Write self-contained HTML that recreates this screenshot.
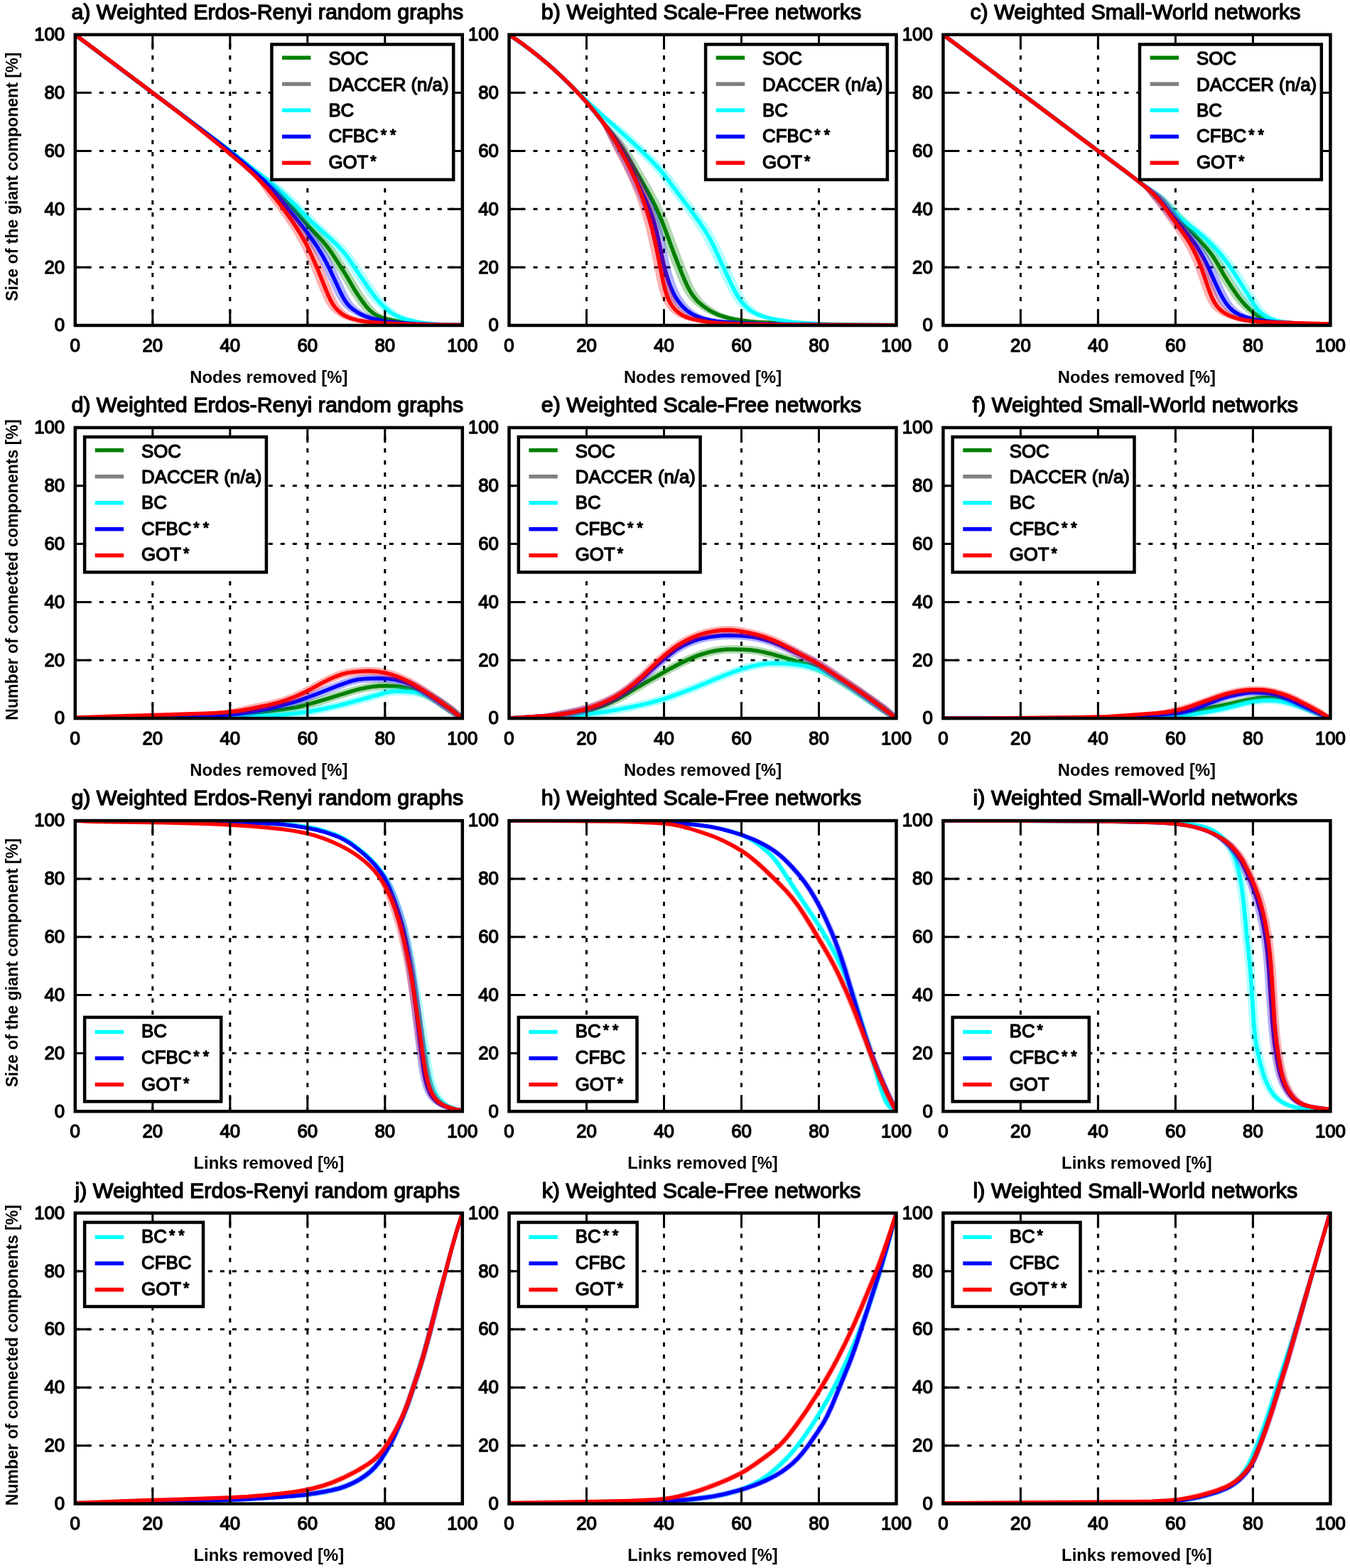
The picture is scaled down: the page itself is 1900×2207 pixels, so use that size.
<!DOCTYPE html><html><head><meta charset="utf-8"><title>Figure</title><style>html,body{margin:0;padding:0;background:#fff;}svg{display:block;}text{font-family:"Liberation Sans", Arial, Helvetica, sans-serif;fill:#000;}.r{stroke:#000;stroke-width:1.35px;stroke-linejoin:round;}.b{}</style></head><body>
<svg width="1900" height="2207" viewBox="0 0 1900 2207">
<rect width="1900" height="2207" fill="#fff"/>
<clipPath id="cp0"><rect x="105.8" y="48.8" width="545" height="409.2"/></clipPath><path d="M214.8 458V48.8M105.8 376.2H650.8M323.8 458V48.8M105.8 294.3H650.8M432.8 458V48.8M105.8 212.5H650.8M541.8 458V48.8M105.8 130.6H650.8" stroke="#000" stroke-width="3" stroke-dasharray="6 11" fill="none"/><g clip-path="url(#cp0)"><path d="M354.9 240.4L359.2 244.2L363.4 248.6L377.2 265L401 290.2L426 318.8L446.4 341L451.5 346.9L458.9 357.4L476.9 385L490 407.4L496.6 417.6L506.7 431.5L510.7 436.1L514.5 439.8L520.5 444.2L527.6 447.9L535.2 450.6L545 453L562.4 456.3L574.4 458L585.8 458.8L606.7 459.3L606.8 454.1L592.3 453.2L577.5 451.6L566.6 450L552.5 447.2L544.9 445.3L539.5 443.3L534.3 440.5L530.1 437.2L526.7 434L522.9 429.6L513 416L506.6 406L492.3 381.9L473.7 353.3L465.2 342L443.5 318.3L416.4 287.4L396.4 266.2L386.5 257.7L365.9 242.4L358.3 236.4Z" fill="#008000" fill-opacity="0.3" stroke="none"/><path d="M105.8 48.8L305.2 198.4L327.6 215.4L342.6 227L355.1 237.1L367.3 247.5L378.4 257.6L390.6 269.5L405 284.8L415.1 295.9L434.8 318.6L454.4 339.9L459.6 346L463.2 350.8L467.2 356.6L485.1 384.3L488.8 390.3L498.3 406.7L505.4 417.7L511.2 425.8L516.1 432.1L520.1 436.5L524.6 440.4L527.8 442.6L532.1 444.9L535.8 446.5L540.5 448L546.2 449.5L553.1 451L564.9 453.2L572.8 454.4L584.8 455.7L599.7 456.5L626.8 457.3L650.8 457.6" stroke="#008000" stroke-width="5.5" fill="none" stroke-linejoin="round"/><path d="M355.1 239.8L363.3 247L378.6 263L393.3 276.3L406.3 288.6L430.9 313.6L455.5 335.6L471.7 351.7L477.5 358.3L482.2 364.6L511.4 407.5L518.5 417.4L527 427.5L535.8 436L542.4 441.1L548.7 445.1L555.7 448.5L563.1 451.2L571.7 453.5L581 455.3L592.8 457L606.6 458.3L607 453.1L599.4 452.3L591.8 450.9L577.4 447.2L570.7 445.1L565.1 442.8L560.5 440.2L555.9 437L550.7 432.8L542.4 424.6L534.8 415.6L527.9 405.9L498 362.1L491.8 354.1L483.5 345.2L469.8 331.8L447.4 311.9L421.5 285.6L409.1 273.8L397.1 263.1L387.7 255.8L367.1 242.1L358.3 235.8Z" fill="#00ffff" fill-opacity="0.3" stroke="none"/><path d="M105.8 48.8L260.2 164.7L322 210.7L370.1 248.3L380.9 257.2L390.8 265.7L402.7 276.4L414.3 287.4L439.5 313.1L464.1 335.1L472.8 343.4L480.4 351.3L485.6 357.4L490.4 363.7L520.2 407.6L527.9 418.1L533 424.2L537.8 429.3L542.9 434.1L548.3 438.5L552.4 441.3L555.8 443.3L559.3 445.1L563.9 447.1L568.6 448.7L574.3 450.3L587 453.1L597.9 454.8L610.8 456L628.8 457L650.8 457.6" stroke="#00ffff" stroke-width="5.5" fill="none" stroke-linejoin="round"/><path d="M355.3 243L360.7 248.2L365.1 253.4L379.8 273.4L418.9 321.5L434.8 343.2L442.9 355.7L450.7 369.6L456.4 381.2L471.7 413.8L475 420.1L480.1 427.8L482.8 430.9L486.5 434.6L490.7 437.9L495.1 440.8L504.6 445.9L516 450.2L528.9 453.4L544 456L562.1 457.7L579.7 458.8L606.7 459.3L606.8 454.1L558.8 450.9L546.9 449.5L536.2 447.6L525.9 445L517.6 441.8L509.6 437.5L502.1 432.1L497 426.7L492.1 419.6L488 411.8L471.4 376.4L464.5 363L454.6 346.6L441.3 327.7L428.3 311L397.3 273L393.2 268.3L388.6 263.7L382.7 258.4L358.8 239.1Z" fill="#0000ff" fill-opacity="0.3" stroke="none"/><path d="M105.8 48.8L255.6 161.2L309 201.7L327.9 216.6L344.2 230L360 243.7L371.8 254.6L378.7 261.8L385.4 269.3L404.3 292.7L418.9 310.4L430.7 325.4L441.9 340.8L446.4 347.4L450.6 354.2L454.7 361.1L458.5 368.1L464.4 379.7L480.1 413.3L483.8 420.3L487 425.3L490.1 429.2L493.6 432.7L497.4 435.8L501.5 438.6L506.6 441.7L512 444.2L517.6 446.4L523.3 448.3L530.1 450L536.9 451.4L544.8 452.7L552.8 453.6L561.8 454.5L584.7 455.9L620.8 457.1L650.8 457.6" stroke="#0000ff" stroke-width="5.5" fill="none" stroke-linejoin="round"/><path d="M355.1 247.4L359.6 252.1L363.5 256.9L377.4 277.4L397 303.6L407.2 318.3L416.2 332.7L422.9 344.8L429.3 358.3L439.4 381.1L451.7 411.8L456.2 421.9L459.1 427.2L462.5 432.3L466.5 437.1L470.3 440.7L477.4 445.6L481.4 447.7L486.6 449.9L497.6 453.2L511 455.6L528.1 457.4L549.9 458.6L577.2 459.5L606.7 459.6L606.8 454.4L543 451.9L528.7 450.9L516.8 449.6L506.6 447.7L498.6 445.3L491.6 442.1L485.8 438.1L482.5 434.9L478.9 430.6L476.2 426.7L473.3 421.6L468.9 411.7L455.4 378.3L442.7 349.9L435.3 335.6L423.7 316.8L408.7 295.4L399.6 283.4L393.8 276.3L383.1 265.4L358.7 243.6Z" fill="#ff0000" fill-opacity="0.3" stroke="none"/><path d="M105.8 48.8L150.7 82.3L197.9 117.8L247.3 155.3L274.1 176.2L305.3 201.3L338.3 228.8L353.3 242.1L360.5 249L366.8 255.4L373.6 262.8L380.8 271.1L388.4 280.4L395.7 289.9L403.5 300.3L411 310.9L416.5 319.2L422.4 328.6L430.4 342.4L436.5 355L447.4 379.7L460.5 412.2L465 422.2L468.4 428.2L471.9 433L475.9 437.4L479.6 440.6L482.8 442.9L487.1 445.3L491.7 447.3L497.3 449.2L503.1 450.7L509 451.8L514.9 452.7L522.8 453.6L540.8 455L566.8 456L607.8 457L650.8 457.6" stroke="#ff0000" stroke-width="5.5" fill="none" stroke-linejoin="round"/></g><path d="M214.8 458v-21M214.8 48.8v21M105.8 376.2h21M650.8 376.2h-21M323.8 458v-21M323.8 48.8v21M105.8 294.3h21M650.8 294.3h-21M432.8 458v-21M432.8 48.8v21M105.8 212.5h21M650.8 212.5h-21M541.8 458v-21M541.8 48.8v21M105.8 130.6h21M650.8 130.6h-21" stroke="#000" stroke-width="3" fill="none"/><rect x="382.4" y="62.5" width="255.8" height="190.4" fill="#fff" stroke="#000" stroke-width="4.5"/><path d="M397 81.2h40.4" stroke="#008000" stroke-width="5.5"/><text class="r" x="462.4" y="91.3" font-size="25.8">SOC</text><path d="M397 118.2h40.4" stroke="#808080" stroke-width="5.5"/><text class="r" x="462.4" y="127.6" font-size="25.8">DACCER (n/a)</text><path d="M397 155.2h40.4" stroke="#00ffff" stroke-width="5.5"/><text class="r" x="462.4" y="163.9" font-size="25.8">BC</text><path d="M397 192.2h40.4" stroke="#0000ff" stroke-width="5.5"/><text class="r" x="462.4" y="200.2" font-size="25.8">CFBC<tspan dx="3.0" dy="-3" font-size="21.5">*</tspan><tspan dx="5.0" dy="0" font-size="21.5">*</tspan></text><path d="M397 229.2h40.4" stroke="#ff0000" stroke-width="5.5"/><text class="r" x="462.4" y="236.5" font-size="25.8">GOT<tspan dx="3.0" dy="-3" font-size="21.5">*</tspan></text><rect x="105.8" y="48.8" width="545" height="409.2" fill="none" stroke="#000" stroke-width="4.5"/><text class="r" x="105.8" y="494.6" font-size="25.8" text-anchor="middle">0</text><text class="r" x="91.2" y="466.3" font-size="25.8" text-anchor="end">0</text><text class="r" x="214.8" y="494.6" font-size="25.8" text-anchor="middle">20</text><text class="r" x="91.2" y="384.5" font-size="25.8" text-anchor="end">20</text><text class="r" x="323.8" y="494.6" font-size="25.8" text-anchor="middle">40</text><text class="r" x="91.2" y="302.6" font-size="25.8" text-anchor="end">40</text><text class="r" x="432.8" y="494.6" font-size="25.8" text-anchor="middle">60</text><text class="r" x="91.2" y="220.8" font-size="25.8" text-anchor="end">60</text><text class="r" x="541.8" y="494.6" font-size="25.8" text-anchor="middle">80</text><text class="r" x="91.2" y="138.9" font-size="25.8" text-anchor="end">80</text><text class="r" x="650.8" y="494.6" font-size="25.8" text-anchor="middle">100</text><text class="r" x="91.2" y="57.1" font-size="25.8" text-anchor="end">100</text><text class="r" x="376.3" y="26.9" font-size="30.4" text-anchor="middle">a) Weighted Erdos-Renyi random graphs</text><text x="378.3" y="538.5" font-size="23.8" font-weight="bold" class="b" text-anchor="middle">Nodes removed [%]</text><text x="25.3" y="248.9" font-size="23.1" font-weight="bold" class="b" text-anchor="middle" transform="rotate(-90 25.3 248.9)">Size of the giant component [%]</text>
<clipPath id="cp1"><rect x="716.5" y="48.8" width="545" height="409.2"/></clipPath><path d="M825.5 458V48.8M716.5 376.2H1261.5M934.5 458V48.8M716.5 294.3H1261.5M1043.5 458V48.8M716.5 212.5H1261.5M1152.5 458V48.8M716.5 130.6H1261.5" stroke="#000" stroke-width="3" stroke-dasharray="6 11" fill="none"/><g clip-path="url(#cp1)"><path d="M840 165.5L847 175.5L860.6 198.9L877.5 225.5L898.6 261.8L910.4 283.7L917 297.1L922.5 309.9L941.3 360.5L955.6 395.9L959.4 404.1L963.3 411.2L967.2 417.2L971.7 422.8L976 427.2L980.8 431.2L985.8 434.9L992 438.9L997.5 442L1003.4 444.7L1009.7 447.1L1016 449L1023.5 450.9L1033.1 452.8L1052.3 455.5L1069.4 456.7L1097.4 457.2L1097.5 452L1065 450L1054 449.1L1038.5 446.7L1025.3 443.7L1019.4 441.8L1014.5 439.7L1004.7 434.5L999.2 430.8L994.6 427.3L990.4 423.5L987.2 420L983.6 415.5L979.9 409.8L976.1 402.9L972.8 395.7L958.9 361.5L944 321.1L937.8 305.3L929.4 287L918.2 265.7L893.5 223.2L881.7 204.6L873.7 194.7L853.8 173.6L844.1 162.3Z" fill="#008000" fill-opacity="0.3" stroke="none"/><path d="M716.5 48.8L728.1 56.7L737.8 63.7L748.2 71.5L759.2 80.2L769.9 89.2L780.5 98.4L790 107.2L800.1 116.9L808.6 125.5L816.9 134.2L824.3 142.3L830.8 149.9L844.5 167L862.3 190L870 200.5L875.7 208.7L881.6 218L900.9 250.7L912.7 271.6L918.3 282.2L922.8 291.2L927.8 302.1L932.4 313.2L937.3 326.3L948 355.4L958.2 381.5L964 395.3L968.7 405.2L971.1 409.6L973.7 413.9L978.4 420.2L981.1 423.2L983.9 426L990 431.1L996.6 435.6L1003.5 439.6L1009.8 442.6L1016.3 445L1024 447.2L1033.7 449.4L1044.6 451.2L1055.5 452.5L1066.5 453.4L1080.5 454L1151.5 456.2L1207.5 457.2L1261.5 457.6" stroke="#008000" stroke-width="5.5" fill="none" stroke-linejoin="round"/><path d="M840.3 158.9L847.5 166.1L858.5 179L863.4 184.3L895.5 214L908.3 226.6L918.5 237.4L931.1 252.7L966.4 299.9L980.7 320.3L990.5 336.3L997.7 350.5L1016.1 390.5L1024.8 408.5L1031.4 419.9L1038.2 428.9L1043.3 434L1048.2 438L1053.7 441.5L1060.7 444.9L1067.5 447.3L1075 449.2L1084.6 451.1L1097.4 453.2L1098.2 448.1L1089.9 446.5L1083.6 444.8L1077.5 442.5L1070.1 439.2L1065.5 436.6L1061.8 434L1057.6 430.3L1053.7 426.1L1047.3 417.6L1041.5 407.3L1032.8 389.4L1013.2 346.7L1008.1 336.8L1002.6 327.2L995 315.4L984.6 300.6L946.2 249.3L937.2 238.4L927.7 228L914.3 214.4L899.7 200.6L878.7 181.8L853.8 163.3L843.8 155Z" fill="#00ffff" fill-opacity="0.3" stroke="none"/><path d="M716.5 48.8L732.9 60.2L748.1 71.6L764.5 84.7L778.9 97.1L790.6 108L815.7 132.4L828.8 144.8L848 162.3L886.6 197.1L898.4 208L915.6 224.7L922.5 232L928.5 238.6L933.7 244.7L939.2 251.8L956.5 275.1L972.2 295.8L982.8 310.4L991.1 322.8L997.9 333.9L1003.5 344.5L1008.2 354.5L1026.6 394.5L1032.3 406.1L1036 413.2L1040.2 420L1045 426.3L1049.7 431.4L1054.9 435.9L1059.9 439.2L1065.1 442L1071.6 444.6L1078.3 446.6L1086 448.5L1095.8 450.3L1106.7 452L1118.6 453.4L1130.6 454.5L1145.5 455.6L1159.5 456.4L1172.5 457L1210.5 457.5L1261.5 457.8" stroke="#00ffff" stroke-width="5.5" fill="none" stroke-linejoin="round"/><path d="M840.1 165.6L845 172.6L849.2 179.6L862 205L874.3 227.6L897 275.4L903.1 289.1L909.6 305.8L914.3 321L918.5 338.4L925.9 373.7L928.7 384.4L931.9 395L936.2 406.3L940.5 415.5L945.3 423.3L950.9 430.5L955.2 435L959.2 438.5L963.5 441.6L969.1 444.9L975.1 447.7L981.5 450L988 451.9L995.7 453.6L1013.1 456.1L1037.1 457.9L1066.7 459L1098.3 459.1L1098.4 453.9L1032.8 451.1L1016.8 449.8L1003.4 447.8L997.5 446.5L991.7 444.9L986.9 443L982.1 440.7L978.3 438.4L974.6 435.7L971 432.7L967.1 428.5L961.8 421.7L957.2 414.2L953 405.3L949.1 395.1L945.8 384.7L943 374.1L934.8 335L930.1 316.5L927.1 306.9L923.6 297.4L914.6 276.1L892.8 229.9L886.8 218.4L880.8 207.9L875.6 200.1L869.7 192.4L844.2 162.4Z" fill="#0000ff" fill-opacity="0.3" stroke="none"/><path d="M716.5 48.8L727.3 56.1L737.1 63L747.4 70.9L757.6 79L768.4 87.9L778.2 96.5L787.8 105.2L797.9 115L807.8 124.9L817.4 135.1L826.1 144.7L833.9 153.9L842.1 164L850 174.3L857 184.1L863.7 194.1L869 202.5L874.6 212L879.9 221.6L884.5 230.5L907.1 278.5L911.5 288.6L915.6 298.8L920.2 312L924 325.5L927.8 342.1L933.2 368.6L936.3 381.2L940.4 394.6L942.7 401.2L945 406.7L947.5 412.2L949.8 416.6L952.4 420.8L955.3 424.9L958.4 428.8L961.7 432.4L965.3 435.8L968.4 438.3L973.4 441.6L978.7 444.3L985.1 446.9L991.8 449L999.6 450.7L1008.5 452.2L1018.4 453.3L1029.4 454.1L1044.4 455L1060.4 455.6L1105.4 456.6L1186.4 457.5L1261.5 457.8" stroke="#0000ff" stroke-width="5.5" fill="none" stroke-linejoin="round"/><path d="M840.1 165.5L845 172.4L849 179.5L861.8 206.2L877 235.1L886.7 255.9L894.9 276.3L902.9 299.8L909.6 323.9L915.3 349.2L924.3 394.3L928.1 409.9L930.6 417.6L933.5 424.1L937.1 430.3L940.8 435.2L945.2 439.7L949.4 443L954.1 445.9L959.3 448.3L965.8 450.6L972.4 452.3L991.4 455.9L1007.6 457.9L1026.7 458.9L1067.1 459.8L1097.4 459.5L1097.5 454.3L1022.4 452.3L1009.5 451.5L998.7 450.2L982.3 447.1L976.4 445.6L971.8 444L967.3 441.8L963.7 439.4L960.2 436.6L957 433.2L953.6 428.7L950.2 422.9L947.5 416.7L945.3 410.2L941.4 394.8L931.7 345.7L925 317.4L921 302.9L916.4 288.6L911.4 274.4L905.8 260.4L899.8 246.6L893.3 233.1L885.4 217.9L879.4 207.4L874.2 199.6L867.1 190L844.2 162.3Z" fill="#ff0000" fill-opacity="0.3" stroke="none"/><path d="M716.5 48.8L728.1 56.6L737.9 63.6L748.2 71.5L758.4 79.6L769.1 88.6L779.7 97.8L789.2 106.6L799.3 116.3L809.8 127L820.1 138L829.4 148.4L837.1 157.6L844.6 167L851.1 175.9L856.7 184.1L863.1 194.3L869.3 204.6L875.2 215L880.4 224.7L885.4 234.5L890.1 244.5L894.7 254.5L898.9 264.6L902.9 274.9L907.3 287.1L911.1 298.5L914.5 310L917.8 322.6L920.6 334.3L923.6 347.9L933.2 396L935.5 405.7L937.7 413.4L939.4 418.1L941 421.7L943.2 426.1L945.3 429.5L947.6 432.7L950.2 435.7L953 438.4L956.1 440.9L960.2 443.6L964.6 445.8L970.2 447.8L976.9 449.6L986.7 451.6L997.6 453.4L1006.5 454.5L1016.5 455.2L1044.4 456.2L1095.5 456.9L1189.5 457.6L1261.5 457.8" stroke="#ff0000" stroke-width="5.5" fill="none" stroke-linejoin="round"/></g><path d="M825.5 458v-21M825.5 48.8v21M716.5 376.2h21M1261.5 376.2h-21M934.5 458v-21M934.5 48.8v21M716.5 294.3h21M1261.5 294.3h-21M1043.5 458v-21M1043.5 48.8v21M716.5 212.5h21M1261.5 212.5h-21M1152.5 458v-21M1152.5 48.8v21M716.5 130.6h21M1261.5 130.6h-21" stroke="#000" stroke-width="3" fill="none"/><rect x="993.1" y="62.5" width="255.8" height="190.4" fill="#fff" stroke="#000" stroke-width="4.5"/><path d="M1007.7 81.2h40.4" stroke="#008000" stroke-width="5.5"/><text class="r" x="1073.1" y="91.3" font-size="25.8">SOC</text><path d="M1007.7 118.2h40.4" stroke="#808080" stroke-width="5.5"/><text class="r" x="1073.1" y="127.6" font-size="25.8">DACCER (n/a)</text><path d="M1007.7 155.2h40.4" stroke="#00ffff" stroke-width="5.5"/><text class="r" x="1073.1" y="163.9" font-size="25.8">BC</text><path d="M1007.7 192.2h40.4" stroke="#0000ff" stroke-width="5.5"/><text class="r" x="1073.1" y="200.2" font-size="25.8">CFBC<tspan dx="3.0" dy="-3" font-size="21.5">*</tspan><tspan dx="5.0" dy="0" font-size="21.5">*</tspan></text><path d="M1007.7 229.2h40.4" stroke="#ff0000" stroke-width="5.5"/><text class="r" x="1073.1" y="236.5" font-size="25.8">GOT<tspan dx="3.0" dy="-3" font-size="21.5">*</tspan></text><rect x="716.5" y="48.8" width="545" height="409.2" fill="none" stroke="#000" stroke-width="4.5"/><text class="r" x="716.5" y="494.6" font-size="25.8" text-anchor="middle">0</text><text class="r" x="701.9" y="466.3" font-size="25.8" text-anchor="end">0</text><text class="r" x="825.5" y="494.6" font-size="25.8" text-anchor="middle">20</text><text class="r" x="701.9" y="384.5" font-size="25.8" text-anchor="end">20</text><text class="r" x="934.5" y="494.6" font-size="25.8" text-anchor="middle">40</text><text class="r" x="701.9" y="302.6" font-size="25.8" text-anchor="end">40</text><text class="r" x="1043.5" y="494.6" font-size="25.8" text-anchor="middle">60</text><text class="r" x="701.9" y="220.8" font-size="25.8" text-anchor="end">60</text><text class="r" x="1152.5" y="494.6" font-size="25.8" text-anchor="middle">80</text><text class="r" x="701.9" y="138.9" font-size="25.8" text-anchor="end">80</text><text class="r" x="1261.5" y="494.6" font-size="25.8" text-anchor="middle">100</text><text class="r" x="701.9" y="57.1" font-size="25.8" text-anchor="end">100</text><text class="r" x="987" y="26.9" font-size="30.4" text-anchor="middle">b) Weighted Scale-Free networks</text><text x="989" y="538.5" font-size="23.8" font-weight="bold" class="b" text-anchor="middle">Nodes removed [%]</text>
<clipPath id="cp2"><rect x="1327.4" y="48.8" width="545" height="409.2"/></clipPath><path d="M1436.4 458V48.8M1327.4 376.2H1872.4M1545.4 458V48.8M1327.4 294.3H1872.4M1654.4 458V48.8M1327.4 212.5H1872.4M1763.4 458V48.8M1327.4 130.6H1872.4" stroke="#000" stroke-width="3" stroke-dasharray="6 11" fill="none"/><g clip-path="url(#cp2)"><path d="M1603.7 259.5L1608 263.1L1611.6 266.5L1621.8 278.2L1632.1 288.6L1651.3 309L1672.9 331.2L1690.3 350.5L1695.8 357.4L1700.8 364.7L1718.1 394L1732 415L1736.8 421.4L1742 427.7L1747.7 433.6L1752.9 438.5L1760.3 444.2L1766.8 448.2L1774.1 451.4L1781.9 453.8L1793.2 456L1806.3 457.6L1816.4 458.3L1834.3 458.7L1834.4 453.5L1822.8 452.8L1805 450.8L1797.1 449.7L1790.6 448.3L1785.2 446.5L1779.8 444.1L1774.5 440.7L1768.5 435.9L1762.9 430.6L1758.1 425.6L1749 414.1L1735.2 393.4L1720 367.5L1715.7 360.6L1709 351.7L1699.2 340.2L1688.3 328.3L1667.3 306.8L1649.5 287.8L1639.5 277.8L1630.5 270.9L1613.1 259.7L1606.8 255.4Z" fill="#008000" fill-opacity="0.3" stroke="none"/><path d="M1327.4 48.8L1586.1 242.9L1614.8 264.7L1621.1 269.7L1627.2 274.9L1633 280.4L1638.7 286L1659.3 307.9L1679.6 328.7L1689.8 339.7L1698.4 349.5L1704 356.5L1709.1 363.9L1712.8 369.9L1722.2 386.4L1727.4 394.9L1735 406.7L1741.9 416.5L1747.5 423.6L1753.5 430.3L1760 436.5L1766.2 441.6L1769.4 443.8L1772.8 445.9L1776.3 447.6L1780 449.1L1783.8 450.4L1788.6 451.6L1798.4 453.4L1811.4 454.8L1826.3 455.8L1848.4 456.5L1872.4 456.8" stroke="#008000" stroke-width="5.5" fill="none" stroke-linejoin="round"/><path d="M1603.6 259.4L1610.5 265.2L1621.9 277.8L1648.2 303.6L1658.1 312.3L1676.4 326.4L1684.7 333.3L1694.8 342.7L1704.3 352.8L1713.3 363.3L1721.6 374.4L1730.5 387.7L1758.2 431.7L1762.6 437.4L1767 441.9L1772.1 445.7L1778.8 449.5L1785.1 452.2L1792 454.3L1799.2 455.7L1807.1 456.8L1834.2 458.4L1834.5 453.2L1825.9 452.4L1809.2 450.3L1800.6 448.7L1795.4 447L1790.7 444.8L1786.1 442.1L1782.6 439.3L1778.7 435.4L1774.7 430.1L1746.5 385.3L1736.9 371.2L1727.1 358.3L1715 344.8L1706.4 336.2L1698 328.7L1675.1 310.8L1666.8 303.8L1638 276L1630.6 270.6L1613.9 260.2L1606.7 255.3Z" fill="#00ffff" fill-opacity="0.3" stroke="none"/><path d="M1327.4 48.8L1611.6 262.1L1621.1 269.5L1628 275.3L1635.4 282L1651.7 298.3L1659.7 305.8L1668.2 312.8L1686.4 326.8L1695.5 334.7L1704.2 343L1713.1 352.5L1718.3 358.5L1723.3 364.8L1728.1 371.2L1732.7 377.7L1739.3 387.8L1764.8 428.4L1767.6 432.6L1770 435.7L1772 437.9L1774.1 439.9L1777.1 442.4L1782.9 446.2L1789.1 449.2L1795.7 451.4L1803.5 452.9L1817.4 454.5L1836.4 455.9L1851.4 456.5L1872.4 456.8" stroke="#00ffff" stroke-width="5.5" fill="none" stroke-linejoin="round"/><path d="M1603.5 259.4L1609.1 264.1L1613.4 268.8L1630.2 289.7L1645.5 309.5L1665.4 333.3L1673.7 344.4L1681.2 356.1L1688.4 369.1L1692.8 378L1705.5 406.3L1711.9 418.9L1715.6 425L1719.1 430L1722.4 433.9L1726.2 437.6L1733.2 442.6L1741.2 446.5L1751.9 450.1L1763.9 452.8L1778.8 455.1L1793.7 456.6L1810.3 457.6L1834.3 458.1L1834.5 452.9L1791.5 449.8L1780.5 448.6L1770.5 446.9L1761.1 444.7L1753.8 442.2L1747.6 439.1L1741.8 435L1738.4 431.8L1735.4 428.2L1732.1 423.5L1729 418.4L1722.7 406.1L1709.1 376L1703.7 365.2L1695.1 350.4L1685.4 336.3L1678.5 327.6L1662.4 308.4L1645.3 286.3L1638.6 278.6L1634.6 274.9L1629 270.5L1606.7 255.3Z" fill="#0000ff" fill-opacity="0.3" stroke="none"/><path d="M1327.4 48.8L1541.1 209.2L1584.4 241.5L1613 263.5L1619.2 268.5L1624.4 273.2L1630 278.9L1635.9 285.7L1653.7 308.6L1674.2 333.2L1679 339.5L1683 345.3L1690 356.2L1696.8 368.5L1701.1 377.5L1713.9 405.8L1717.4 413L1720.7 419.1L1724.9 425.9L1728.5 430.7L1732.5 435L1736.3 438.1L1739.6 440.3L1743.9 442.7L1748.4 444.7L1753.1 446.4L1758.9 448L1764.7 449.4L1771.6 450.7L1779.5 451.8L1795.4 453.4L1821.4 455L1847.4 456L1872.4 456.4" stroke="#0000ff" stroke-width="5.5" fill="none" stroke-linejoin="round"/><path d="M1604.2 260.1L1608.3 263.8L1612.1 268L1630.1 291.3L1656.3 327.9L1665.5 342L1672.7 355L1678.9 368.6L1683.1 379.7L1693.2 409.1L1697.8 420.3L1700.6 425.7L1703.9 430.9L1707.2 434.9L1711 438.5L1714.4 441.1L1719.1 444L1728.1 448.1L1739 451.6L1750.2 453.8L1764.4 455.5L1781.3 456.6L1808.7 457.5L1834.3 457.7L1834.4 452.5L1811 451.2L1777.7 449.9L1766.5 449.1L1756.7 447.9L1747.6 446L1739.5 443.3L1731.6 439.5L1725.8 435.3L1723.2 432.8L1720.3 429.2L1717.7 425.2L1715 420L1710.4 409.1L1699.3 377L1694.5 364.8L1686.6 348.5L1682.1 340.6L1676.7 332.1L1649.4 293.7L1639.5 280.9L1634.9 276.3L1629.5 271.9L1607.4 256.1Z" fill="#ff0000" fill-opacity="0.3" stroke="none"/><path d="M1327.4 48.8L1541.1 209.3L1584.5 241.5L1596.4 250.6L1610.5 261.9L1618.1 268.4L1623.9 273.8L1628.1 278.1L1632 282.6L1640 292.9L1665.1 327.9L1670.1 335.4L1674.8 343L1678.3 349.1L1681.9 356.2L1684.9 362.6L1687.7 369L1691.6 379.3L1701.7 408.6L1704.2 415.1L1706.6 420.6L1709.4 425.9L1712.7 430.8L1716.6 435.2L1720.3 438.4L1723.5 440.6L1727.8 443.1L1732.4 445.2L1738 447.2L1742.7 448.6L1748.6 450L1754.5 451L1760.4 451.8L1773.4 452.9L1789.4 453.7L1834.4 455.1L1872.4 456" stroke="#ff0000" stroke-width="5.5" fill="none" stroke-linejoin="round"/></g><path d="M1436.4 458v-21M1436.4 48.8v21M1327.4 376.2h21M1872.4 376.2h-21M1545.4 458v-21M1545.4 48.8v21M1327.4 294.3h21M1872.4 294.3h-21M1654.4 458v-21M1654.4 48.8v21M1327.4 212.5h21M1872.4 212.5h-21M1763.4 458v-21M1763.4 48.8v21M1327.4 130.6h21M1872.4 130.6h-21" stroke="#000" stroke-width="3" fill="none"/><rect x="1604" y="62.5" width="255.8" height="190.4" fill="#fff" stroke="#000" stroke-width="4.5"/><path d="M1618.6 81.2h40.4" stroke="#008000" stroke-width="5.5"/><text class="r" x="1684" y="91.3" font-size="25.8">SOC</text><path d="M1618.6 118.2h40.4" stroke="#808080" stroke-width="5.5"/><text class="r" x="1684" y="127.6" font-size="25.8">DACCER (n/a)</text><path d="M1618.6 155.2h40.4" stroke="#00ffff" stroke-width="5.5"/><text class="r" x="1684" y="163.9" font-size="25.8">BC</text><path d="M1618.6 192.2h40.4" stroke="#0000ff" stroke-width="5.5"/><text class="r" x="1684" y="200.2" font-size="25.8">CFBC<tspan dx="3.0" dy="-3" font-size="21.5">*</tspan><tspan dx="5.0" dy="0" font-size="21.5">*</tspan></text><path d="M1618.6 229.2h40.4" stroke="#ff0000" stroke-width="5.5"/><text class="r" x="1684" y="236.5" font-size="25.8">GOT<tspan dx="3.0" dy="-3" font-size="21.5">*</tspan></text><rect x="1327.4" y="48.8" width="545" height="409.2" fill="none" stroke="#000" stroke-width="4.5"/><text class="r" x="1327.4" y="494.6" font-size="25.8" text-anchor="middle">0</text><text class="r" x="1312.8" y="466.3" font-size="25.8" text-anchor="end">0</text><text class="r" x="1436.4" y="494.6" font-size="25.8" text-anchor="middle">20</text><text class="r" x="1312.8" y="384.5" font-size="25.8" text-anchor="end">20</text><text class="r" x="1545.4" y="494.6" font-size="25.8" text-anchor="middle">40</text><text class="r" x="1312.8" y="302.6" font-size="25.8" text-anchor="end">40</text><text class="r" x="1654.4" y="494.6" font-size="25.8" text-anchor="middle">60</text><text class="r" x="1312.8" y="220.8" font-size="25.8" text-anchor="end">60</text><text class="r" x="1763.4" y="494.6" font-size="25.8" text-anchor="middle">80</text><text class="r" x="1312.8" y="138.9" font-size="25.8" text-anchor="end">80</text><text class="r" x="1872.4" y="494.6" font-size="25.8" text-anchor="middle">100</text><text class="r" x="1312.8" y="57.1" font-size="25.8" text-anchor="end">100</text><text class="r" x="1597.9" y="26.9" font-size="30.4" text-anchor="middle">c) Weighted Small-World networks</text><text x="1599.9" y="538.5" font-size="23.8" font-weight="bold" class="b" text-anchor="middle">Nodes removed [%]</text>
<clipPath id="cp3"><rect x="105.8" y="601.9" width="545" height="409.2"/></clipPath><path d="M214.8 1011.1V601.9M105.8 929.3H650.8M323.8 1011.1V601.9M105.8 847.4H650.8M432.8 1011.1V601.9M105.8 765.6H650.8M541.8 1011.1V601.9M105.8 683.7H650.8" stroke="#000" stroke-width="3" stroke-dasharray="6 11" fill="none"/><g clip-path="url(#cp3)"><path d="M308.2 1010.6L335.6 1011.3L346.8 1010.9L393.5 1005.2L409.6 1002.8L422.7 1000.2L437.5 996.4L460.7 989.7L496.1 978.6L506.4 975.8L516.9 973.6L526.5 972L535 971.2L542.5 971L556 971.8L569.4 973.7L579.4 976.1L590.2 980L599.9 984.3L609.2 989.3L631.3 1003.9L648.3 1014.5L653.3 1007.7L639.5 995.9L625.5 986L611.5 977.3L598.4 970.8L585.8 965.9L573.6 962.7L558.2 960.4L542.7 959.4L534.3 959.6L525.9 960.4L514.7 962.2L503.7 964.6L492.7 967.5L440.1 983.6L424.9 987.8L413.4 990.4L396 993.1L348.3 999.1L320 1004.3L308 1005.4Z" fill="#008000" fill-opacity="0.3" stroke="none"/><path d="M105.8 1010.7L175.9 1010.3L265.1 1009.1L315.1 1007.7L327.1 1007.1L338.1 1006.2L395.8 999L406.7 997.4L415.5 995.9L427.2 993.2L442.7 988.9L462.9 982.9L493.4 973.4L504.1 970.4L514.8 968.1L524.7 966.4L533.6 965.4L541.6 965.2L548.6 965.4L556.6 966L564.5 967L571.4 968.2L577.3 969.5L582.1 970.8L587.7 972.8L594.2 975.4L600.6 978.2L606 980.9L611.3 983.8L616.4 986.9L633.8 998.7L650.8 1011.1" stroke="#008000" stroke-width="5.5" fill="none" stroke-linejoin="round"/><path d="M308.1 1012.3L318.1 1012.5L341.2 1014.1L350.2 1014.2L393.4 1012.1L409.6 1010.7L426.6 1008.7L448.7 1005.1L477.3 998.8L496.9 993.8L544.8 980.5L553 979.1L562.3 978.7L574.9 979.3L585.2 980.4L592.4 982L600.1 984.8L606.1 987.5L612.6 991.2L632 1004.7L648.4 1014.5L653.2 1007.7L638.5 995.5L625.6 986L616 979.8L606.6 974.9L596.6 971.2L587.2 969L575.7 967.7L561.3 967.1L551.8 967.6L542.3 969.1L480.4 986.1L454.2 992.1L434.9 995.8L419.2 997.9L400.5 999.9L381.7 1001.2L345.8 1002.9L318.9 1006.3L307.9 1007.1Z" fill="#00ffff" fill-opacity="0.3" stroke="none"/><path d="M105.8 1010.9L211.9 1010.6L293 1010L322 1009.3L353 1008.3L381 1007.1L398 1005.9L413 1004.5L427.9 1002.7L438.7 1001L450.5 998.8L469.1 994.8L486.6 990.5L542.6 975L547.4 974L551.4 973.4L556.3 973L561.3 972.9L574.3 973.4L585.2 974.5L590.1 975.4L594 976.4L597.7 977.6L602.4 979.4L609.6 982.8L617.3 987.4L650.8 1011.1" stroke="#00ffff" stroke-width="5.5" fill="none" stroke-linejoin="round"/><path d="M308 1009.3L332.4 1009.5L344.6 1008.9L355.6 1007.2L381.4 1002.2L405 996.5L424.5 990.8L444.5 983.6L480.8 969.4L491 965.8L498.3 963.5L504.6 962.2L512 961.3L523.6 960.7L536.4 960.6L547.8 961.3L558.1 963L569 965.9L577.6 969.3L586.7 974.3L603.6 984.8L631.5 1003.7L648.2 1014.4L653.4 1007.8L639.7 995.8L627.5 986.8L603 970.7L591.8 963.8L584.5 959.8L578.7 957.1L573.6 955.2L561.5 951.9L549.1 949.8L535.6 949L523.3 949.1L512.1 949.6L504.7 950.4L497.4 951.8L489.3 954.1L478.7 957.8L428.3 977.2L417.1 981L405.8 984.3L380.9 990.4L346.7 997.1L326.5 1001.6L316.8 1003.3L307.8 1004.1Z" fill="#0000ff" fill-opacity="0.3" stroke="none"/><path d="M105.8 1010.3L174.8 1009.3L282.9 1007.4L316.9 1006.3L325.9 1005.6L334.8 1004.7L351.6 1002L377.2 997.2L394.8 993.2L411.2 988.8L421.7 985.6L432.1 982L446.2 976.7L477.9 964.3L490.1 960L497.8 957.7L504.6 956.3L511.5 955.5L521.5 955L533.5 954.8L539.5 954.9L545.5 955.2L551.4 955.9L557.3 956.9L564.1 958.5L569.9 960.1L575.5 962.1L580.1 964.1L585.4 966.8L591.4 970.4L615.1 985.4L633.2 997.9L650.8 1011.1" stroke="#0000ff" stroke-width="5.5" fill="none" stroke-linejoin="round"/><path d="M308 1005.8L333.4 1005.5L345.6 1004.6L367.4 1000.5L388.2 995.8L404.9 990.8L421.1 984.4L435.9 977.3L461.3 963.6L472 958.7L480.9 955.2L488.8 953L497.1 951.6L510.6 950.6L522.2 950.5L534.4 951.6L546.4 954.2L558.1 958.1L571.3 964.1L583.1 970.7L599 980.7L613 990.1L631.6 1003.4L648.2 1014.4L653.4 1007.8L638.3 994.3L623.7 983.5L596.9 965.6L586.5 959.2L578.4 954.6L563.4 947.7L556.5 945.1L549.5 943L542.4 941.3L535.1 940L528.8 939.2L521.5 938.9L510.1 939L497.8 939.9L489.5 941L481.1 943L472.2 946.1L461.8 950.5L451.6 955.5L433.2 965.7L424.5 970.1L411.1 976L399.3 980.4L390 983.3L379.5 986L345.6 993.1L326.4 997.8L316.6 999.7L307.7 1000.6Z" fill="#ff0000" fill-opacity="0.3" stroke="none"/><path d="M105.8 1009.9L165.8 1008.1L286.9 1004.3L304.9 1003.4L317.8 1002.6L327.8 1001.6L337.7 1000.3L355.4 997L378.9 992.1L392.5 988.6L404.9 984.6L416 980.2L428.8 974.4L436.8 970.3L453.4 961.1L463.3 956.2L473.4 951.8L481.8 948.8L488.6 947.1L496.4 945.9L507.4 945L519.4 944.6L526.4 944.9L533.3 945.6L540.2 946.7L547 948.3L552.7 950L559.3 952.3L566.7 955.4L573.9 958.9L581 962.7L588.7 967.3L599.7 974.2L611.4 982L621.2 988.8L631.8 996.5L650.8 1011.1" stroke="#ff0000" stroke-width="5.5" fill="none" stroke-linejoin="round"/></g><path d="M214.8 1011.1v-21M214.8 601.9v21M105.8 929.3h21M650.8 929.3h-21M323.8 1011.1v-21M323.8 601.9v21M105.8 847.4h21M650.8 847.4h-21M432.8 1011.1v-21M432.8 601.9v21M105.8 765.6h21M650.8 765.6h-21M541.8 1011.1v-21M541.8 601.9v21M105.8 683.7h21M650.8 683.7h-21" stroke="#000" stroke-width="3" fill="none"/><rect x="119.1" y="615" width="255.8" height="190.4" fill="#fff" stroke="#000" stroke-width="4.5"/><path d="M133.7 633.7h40.4" stroke="#008000" stroke-width="5.5"/><text class="r" x="199.1" y="643.8" font-size="25.8">SOC</text><path d="M133.7 670.7h40.4" stroke="#808080" stroke-width="5.5"/><text class="r" x="199.1" y="680.1" font-size="25.8">DACCER (n/a)</text><path d="M133.7 707.7h40.4" stroke="#00ffff" stroke-width="5.5"/><text class="r" x="199.1" y="716.4" font-size="25.8">BC</text><path d="M133.7 744.7h40.4" stroke="#0000ff" stroke-width="5.5"/><text class="r" x="199.1" y="752.7" font-size="25.8">CFBC<tspan dx="3.0" dy="-3" font-size="21.5">*</tspan><tspan dx="5.0" dy="0" font-size="21.5">*</tspan></text><path d="M133.7 781.7h40.4" stroke="#ff0000" stroke-width="5.5"/><text class="r" x="199.1" y="789" font-size="25.8">GOT<tspan dx="3.0" dy="-3" font-size="21.5">*</tspan></text><rect x="105.8" y="601.9" width="545" height="409.2" fill="none" stroke="#000" stroke-width="4.5"/><text class="r" x="105.8" y="1047.7" font-size="25.8" text-anchor="middle">0</text><text class="r" x="91.2" y="1019.4" font-size="25.8" text-anchor="end">0</text><text class="r" x="214.8" y="1047.7" font-size="25.8" text-anchor="middle">20</text><text class="r" x="91.2" y="937.6" font-size="25.8" text-anchor="end">20</text><text class="r" x="323.8" y="1047.7" font-size="25.8" text-anchor="middle">40</text><text class="r" x="91.2" y="855.7" font-size="25.8" text-anchor="end">40</text><text class="r" x="432.8" y="1047.7" font-size="25.8" text-anchor="middle">60</text><text class="r" x="91.2" y="773.9" font-size="25.8" text-anchor="end">60</text><text class="r" x="541.8" y="1047.7" font-size="25.8" text-anchor="middle">80</text><text class="r" x="91.2" y="692" font-size="25.8" text-anchor="end">80</text><text class="r" x="650.8" y="1047.7" font-size="25.8" text-anchor="middle">100</text><text class="r" x="91.2" y="610.2" font-size="25.8" text-anchor="end">100</text><text class="r" x="376.3" y="580" font-size="30.4" text-anchor="middle">d) Weighted Erdos-Renyi random graphs</text><text x="378.3" y="1091.6" font-size="23.8" font-weight="bold" class="b" text-anchor="middle">Nodes removed [%]</text><text x="25.3" y="802" font-size="23.1" font-weight="bold" class="b" text-anchor="middle" transform="rotate(-90 25.3 802)">Number of connected components [%]</text>
<clipPath id="cp4"><rect x="716.5" y="601.9" width="545" height="409.2"/></clipPath><path d="M825.5 1011.1V601.9M716.5 929.3H1261.5M934.5 1011.1V601.9M716.5 847.4H1261.5M1043.5 1011.1V601.9M716.5 765.6H1261.5M1152.5 1011.1V601.9M716.5 683.7H1261.5" stroke="#000" stroke-width="3" stroke-dasharray="6 11" fill="none"/><g clip-path="url(#cp4)"><path d="M754.6 1011.8L763.6 1011.7L785.9 1012.3L797.1 1011.8L809.2 1010L821.3 1007.7L831.3 1005.3L840.2 1002.6L856.5 996.3L873.2 988.4L882.2 983.4L907.8 967.9L946.9 945.8L960.8 938.5L976 931.4L983.1 928.5L990.4 926L1005.3 922.2L1018.5 920.1L1031.9 919.7L1044.7 920L1055.4 920.6L1063.9 921.6L1072.4 923.3L1096.2 929.4L1136.4 941.3L1148.1 945.4L1155 948.6L1161.7 952.3L1194.1 971.9L1215.8 985.9L1242 1003.9L1259 1014.5L1264 1007.7L1253.3 998.5L1245.4 992.3L1217.2 972.9L1199.3 961.5L1170.2 943.8L1161.2 938.7L1153.6 935.2L1145.7 932.1L1136.9 929.3L1095.6 917.2L1074.9 911.9L1065.7 910.2L1056.4 909L1045.1 908.4L1030.9 908.1L1016.3 908.7L1009.1 909.7L1001.9 911L985.9 915.2L971.4 920.8L955.7 928.1L941.3 935.7L902 957.8L876.2 973.4L867.8 978.2L853.7 984.9L839.3 990.7L826.4 994.6L812.1 997.7L790.8 1001.1L767.3 1005.2L754.3 1006.6Z" fill="#008000" fill-opacity="0.3" stroke="none"/><path d="M716.5 1011.1L767.5 1008.5L780.4 1007.6L791.4 1006.6L802.3 1005.2L814.2 1003.2L824.9 1001L834.6 998.3L843.1 995.5L851.5 992.2L861.5 987.7L869.6 983.8L879.2 978.4L895.4 968.5L905.8 962.4L944.1 940.7L958.3 933.3L973.7 926.1L981.1 923.1L987.7 920.8L995.4 918.6L1003.1 916.7L1010 915.4L1016.9 914.5L1023.9 914L1030.9 913.9L1044.9 914.2L1055.9 914.8L1064.8 915.9L1073.6 917.6L1086.3 920.7L1097.8 923.8L1117.9 929.9L1138.1 935.7L1144.8 937.9L1150.4 940.1L1157.6 943.4L1165.5 947.8L1192 963.8L1205.6 972.3L1219 981.1L1233.1 990.7L1247 1000.5L1261.5 1011.1" stroke="#008000" stroke-width="5.5" fill="none" stroke-linejoin="round"/><path d="M754.6 1012.8L764.6 1012.8L791.8 1014L797.9 1013.8L811 1012.7L834 1010.1L854 1007.3L876.9 1003.4L898.6 999L925.2 992.5L936.9 989.1L947.5 985.5L980.4 973L1023 955.5L1037.8 949.9L1048 946.5L1060.1 943.3L1072.5 940.8L1081.9 939.7L1091.4 939.4L1112 940.4L1128.4 942.3L1136.9 944L1144.3 945.9L1150.6 947.9L1156.6 950.4L1165.9 955.1L1179.4 963.1L1189.3 969.6L1214 986.7L1237.4 1002.3L1246.8 1008L1259.2 1014.6L1263.8 1007.6L1247 994.9L1218 975.5L1192.5 957.7L1175.2 947L1162.3 940.2L1155.5 937.4L1148.5 935L1140.4 932.9L1131.3 931.1L1123.1 929.9L1112.9 928.8L1100.7 928L1090.5 927.8L1080 928.2L1069.6 929.5L1055.5 932.4L1043.6 935.7L1032.9 939.4L1017.8 945.1L978 961.5L947.4 973.3L928.7 979.4L906.8 985.2L877.7 991.4L847.3 996.6L820.7 1000L792.1 1002.7L765.4 1006.7L754.4 1007.6Z" fill="#00ffff" fill-opacity="0.3" stroke="none"/><path d="M716.5 1011.1L738.5 1010.8L762.5 1009.9L790.5 1008.5L808.4 1007.1L830.3 1004.7L849.2 1002.2L868.9 998.9L890.5 994.8L905.2 991.6L919.8 987.9L932.3 984.4L943.7 980.7L956.9 975.9L977.4 968L1020.9 950.1L1035.9 944.5L1046.3 941L1057.9 937.9L1070.6 935.3L1080.5 934L1090.5 933.6L1099.5 933.8L1111.4 934.5L1121.4 935.5L1129.3 936.6L1138.1 938.3L1145.9 940.3L1152.5 942.4L1159 945.1L1164.4 947.7L1170.5 951L1185.9 960.4L1220.5 984.2L1261.5 1011.1" stroke="#00ffff" stroke-width="5.5" fill="none" stroke-linejoin="round"/><path d="M755.6 1011.1L763.6 1010.9L785.9 1011.1L798.1 1010.1L811.2 1007.6L826.1 1003.9L837.8 1000.3L849.4 996L859.8 991.5L869 986.8L877.1 982.1L885.6 976.3L904.9 961.3L928.9 940L944.1 927.3L954.1 919.8L962.9 914.4L969.7 911.1L976.8 908.2L984 905.7L991.3 903.8L1000.7 902.1L1010.3 900.9L1019 900.2L1027.7 900.1L1041.4 900.5L1054.9 901.7L1065.2 903.5L1075.4 906.1L1085.6 909.5L1095.4 913.4L1134 931.8L1147.8 939.1L1160.2 946.8L1206.5 978.1L1242.2 1003.6L1259 1014.4L1264 1007.8L1253.5 998.4L1245.8 992L1214.8 969.7L1163.2 934.9L1152.7 928.5L1140.9 922.3L1100 902.8L1089.5 898.6L1078.7 895L1067.7 892.1L1056.4 890.2L1042 889L1026.7 888.5L1017.4 888.7L1007.1 889.5L996.9 891L987.8 892.7L980.6 894.6L972.7 897.3L965 900.5L957.5 904.2L948.4 909.6L937.6 917.7L921.3 931.2L898.2 951.8L880.4 965.8L873.3 970.7L866 975.2L858.3 979.3L849.5 983.4L840.5 987L832.3 989.9L813.5 995.2L770.1 1003.9L755.2 1005.9Z" fill="#0000ff" fill-opacity="0.3" stroke="none"/><path d="M716.5 1011.1L769.4 1007.5L782.3 1006.4L793.3 1005L805.1 1002.9L818.7 999.8L831.2 996.3L842.6 992.4L853.7 987.9L863.6 983.1L872.3 978.3L880.6 972.8L890.2 965.6L900.4 957.5L907.2 951.6L925.9 935L941.3 922.2L950.8 915L955.9 911.8L960.2 909.3L967.4 905.8L974.7 902.7L982.3 900.2L990 898.2L998.9 896.5L1008.8 895.2L1017.7 894.5L1026.7 894.3L1041.7 894.8L1055.6 896L1061.6 896.8L1066.5 897.8L1077.1 900.6L1087.5 904L1097.7 908.1L1105.9 911.8L1137.5 927L1148.1 932.6L1158.4 938.7L1201.6 967.7L1215.6 977.3L1231 988.4L1245.5 999L1261.5 1011.1" stroke="#0000ff" stroke-width="5.5" fill="none" stroke-linejoin="round"/><path d="M754.6 1011.2L763.7 1010.9L786 1011.1L793.2 1010.7L799.3 1009.8L812.3 1007.1L827.2 1003.2L839.9 999L851.3 994.4L861.6 989.6L870.7 984.7L879.5 979.1L887.9 973.1L896.7 966.1L905.2 958.8L927.6 937.1L937.8 927.9L950.8 917.5L961.9 910.1L968.6 906.4L976.4 902.7L983.5 899.9L990.7 897.6L1000 895.3L1009.5 893.6L1017 892.8L1024.5 892.5L1032 892.9L1041.5 894.1L1054 896.5L1064.4 899.1L1073.7 901.9L1083.7 905.5L1091.7 908.9L1100.4 913.2L1136.5 932.5L1154.2 943.1L1200.7 974.1L1241.3 1003L1259 1014.4L1264 1007.8L1248.9 994.5L1234.4 983.6L1208.9 965.6L1169 938.8L1157 931.1L1146.5 924.9L1109.3 904.8L1099.3 899.7L1089.9 895.5L1079.3 891.5L1068.4 888.2L1056.5 885.2L1043.4 882.7L1033.1 881.3L1024.6 880.9L1016.1 881.2L1007.8 882.2L997.6 884L988.5 886.2L980.5 888.7L972.7 891.7L964.2 895.6L956.9 899.6L950.6 903.4L944.7 907.6L931.1 918.5L919.6 928.6L898.1 949.5L882.4 962.7L874.6 968.5L867.3 973.2L859 977.9L850.2 982.2L841.3 986L832.2 989.4L822.9 992.3L812.5 995.1L803 997.3L771.2 1003.7L762.3 1005.2L754.3 1006Z" fill="#ff0000" fill-opacity="0.3" stroke="none"/><path d="M716.5 1011.1L770.5 1007.4L783.4 1006.2L794.3 1004.8L806.1 1002.6L819.7 999.3L832.2 995.5L843.5 991.4L854.5 986.6L865.2 981.1L873.7 976L882.8 969.7L892.2 962.3L901.3 954.4L907.9 948.3L923.6 932.9L934.8 922.9L941.8 917.1L948.1 912.3L953.8 908.3L959.8 904.6L966.8 900.8L975 897L982.4 894.1L989.1 892L997.8 889.9L1007.7 888L1015.6 887.1L1023.6 886.7L1031.5 887L1041.5 888.2L1054.2 890.6L1065.9 893.5L1075.5 896.4L1085.8 900.1L1094.1 903.7L1104 908.6L1141 928.4L1150.6 933.9L1160.7 940.3L1199 965.9L1215.5 977.3L1238.3 993.7L1261.5 1011.1" stroke="#ff0000" stroke-width="5.5" fill="none" stroke-linejoin="round"/></g><path d="M825.5 1011.1v-21M825.5 601.9v21M716.5 929.3h21M1261.5 929.3h-21M934.5 1011.1v-21M934.5 601.9v21M716.5 847.4h21M1261.5 847.4h-21M1043.5 1011.1v-21M1043.5 601.9v21M716.5 765.6h21M1261.5 765.6h-21M1152.5 1011.1v-21M1152.5 601.9v21M716.5 683.7h21M1261.5 683.7h-21" stroke="#000" stroke-width="3" fill="none"/><rect x="729.8" y="615" width="255.8" height="190.4" fill="#fff" stroke="#000" stroke-width="4.5"/><path d="M744.4 633.7h40.4" stroke="#008000" stroke-width="5.5"/><text class="r" x="809.8" y="643.8" font-size="25.8">SOC</text><path d="M744.4 670.7h40.4" stroke="#808080" stroke-width="5.5"/><text class="r" x="809.8" y="680.1" font-size="25.8">DACCER (n/a)</text><path d="M744.4 707.7h40.4" stroke="#00ffff" stroke-width="5.5"/><text class="r" x="809.8" y="716.4" font-size="25.8">BC</text><path d="M744.4 744.7h40.4" stroke="#0000ff" stroke-width="5.5"/><text class="r" x="809.8" y="752.7" font-size="25.8">CFBC<tspan dx="3.0" dy="-3" font-size="21.5">*</tspan><tspan dx="5.0" dy="0" font-size="21.5">*</tspan></text><path d="M744.4 781.7h40.4" stroke="#ff0000" stroke-width="5.5"/><text class="r" x="809.8" y="789" font-size="25.8">GOT<tspan dx="3.0" dy="-3" font-size="21.5">*</tspan></text><rect x="716.5" y="601.9" width="545" height="409.2" fill="none" stroke="#000" stroke-width="4.5"/><text class="r" x="716.5" y="1047.7" font-size="25.8" text-anchor="middle">0</text><text class="r" x="701.9" y="1019.4" font-size="25.8" text-anchor="end">0</text><text class="r" x="825.5" y="1047.7" font-size="25.8" text-anchor="middle">20</text><text class="r" x="701.9" y="937.6" font-size="25.8" text-anchor="end">20</text><text class="r" x="934.5" y="1047.7" font-size="25.8" text-anchor="middle">40</text><text class="r" x="701.9" y="855.7" font-size="25.8" text-anchor="end">40</text><text class="r" x="1043.5" y="1047.7" font-size="25.8" text-anchor="middle">60</text><text class="r" x="701.9" y="773.9" font-size="25.8" text-anchor="end">60</text><text class="r" x="1152.5" y="1047.7" font-size="25.8" text-anchor="middle">80</text><text class="r" x="701.9" y="692" font-size="25.8" text-anchor="end">80</text><text class="r" x="1261.5" y="1047.7" font-size="25.8" text-anchor="middle">100</text><text class="r" x="701.9" y="610.2" font-size="25.8" text-anchor="end">100</text><text class="r" x="987" y="580" font-size="30.4" text-anchor="middle">e) Weighted Scale-Free networks</text><text x="989" y="1091.6" font-size="23.8" font-weight="bold" class="b" text-anchor="middle">Nodes removed [%]</text>
<clipPath id="cp5"><rect x="1327.4" y="601.9" width="545" height="409.2"/></clipPath><path d="M1436.4 1011.1V601.9M1327.4 929.3H1872.4M1545.4 1011.1V601.9M1327.4 847.4H1872.4M1654.4 1011.1V601.9M1327.4 765.6H1872.4M1763.4 1011.1V601.9M1327.4 683.7H1872.4" stroke="#000" stroke-width="3" stroke-dasharray="6 11" fill="none"/><g clip-path="url(#cp5)"><path d="M1621.6 1011L1628.6 1011L1649.8 1011.9L1657.9 1011.4L1667.1 1010.3L1677.3 1008.3L1702.3 1001.7L1728.7 996.3L1754.1 990.7L1772.5 987.6L1783.7 986.8L1789.2 987.1L1795.6 988.1L1804.1 990L1812.5 992.4L1827.3 997.6L1854.1 1008.2L1871.1 1014L1873.7 1008.2L1861.5 1001.2L1854.2 997.6L1837.4 990.8L1822.3 985.1L1811.5 981.7L1800.6 978.9L1792.3 977.4L1783.8 976.8L1777.4 977L1771.2 977.7L1753.1 980.7L1726.7 986.5L1699.2 992.1L1675.9 998.3L1668.4 1000L1661.8 1001L1648.1 1002.4L1629.4 1005.2L1621.4 1005.8Z" fill="#008000" fill-opacity="0.3" stroke="none"/><path d="M1327.4 1011.1L1444.4 1010.9L1554.5 1010.2L1577.5 1009.8L1603.5 1009.1L1630.5 1008.1L1647.5 1007.2L1660.4 1006.2L1670.3 1004.7L1677.1 1003.2L1692.5 998.9L1700.3 997L1727.7 991.4L1753.1 985.8L1762.9 984L1770.8 982.7L1776.8 982.1L1782.7 981.8L1789.7 982.1L1797.5 983.3L1807.2 985.7L1816.8 988.5L1828.1 992.6L1844.9 999.1L1857.8 1004.5L1872.4 1011.1" stroke="#008000" stroke-width="5.5" fill="none" stroke-linejoin="round"/><path d="M1621.8 1011.8L1628.8 1011.9L1651 1012.9L1664.1 1012.1L1676.2 1010.8L1696.2 1007.7L1718 1003.6L1731.9 1000.4L1752.2 995.1L1761.7 993.1L1775.1 991.2L1785.5 990.7L1792.1 991L1799.7 991.9L1807.3 993.3L1814.8 995.1L1827.8 999.3L1853 1008.4L1871.1 1014.1L1873.7 1008.1L1861.2 1001.5L1853.8 998.1L1834.9 991.2L1821.4 986.6L1812.4 984.2L1803.3 982.4L1794 981.2L1784.6 980.7L1773.1 981.3L1758.9 983.4L1748.8 985.6L1730.4 990.5L1718.9 993.2L1703.3 996.3L1684.7 999.4L1671.1 1001.3L1650.4 1003.1L1630.6 1005.9L1621.6 1006.6Z" fill="#00ffff" fill-opacity="0.3" stroke="none"/><path d="M1327.4 1011.1L1455.5 1011L1556.6 1010.6L1607.7 1009.6L1631.7 1008.9L1648.7 1008.1L1660.7 1007.3L1669.6 1006.5L1678.6 1005.4L1689.4 1003.7L1707.2 1000.6L1721.9 997.6L1731.6 995.3L1750 990.5L1758.8 988.5L1765.7 987.3L1772.6 986.4L1778.6 985.9L1784.6 985.7L1792.6 986.1L1801.5 987.1L1810.3 988.8L1818 990.8L1828.5 994.2L1846.4 1000.7L1858.5 1005.3L1872.4 1011.1" stroke="#00ffff" stroke-width="5.5" fill="none" stroke-linejoin="round"/><path d="M1621.6 1009.1L1628.6 1008.9L1649.9 1009.3L1657 1008.6L1666.2 1007.2L1672.3 1005.8L1679.3 1003.6L1714.9 990L1729.7 985.3L1742.1 982.4L1752.6 980.6L1761.2 979.7L1770.7 979.6L1779.4 980L1787 980.8L1793.4 982L1799.7 983.8L1810.3 988.2L1851.2 1007L1871.1 1014L1873.7 1008.2L1854.4 997.5L1815.3 979.5L1804.9 975.1L1797.8 972.8L1789.5 971.1L1780.2 970L1769.9 969.6L1761.6 969.7L1753.3 970.4L1744.1 971.9L1733.1 974.2L1723.2 976.7L1714.4 979.5L1679.7 992.9L1669.8 996.1L1662.4 997.7L1647.9 999.8L1631.2 1002.8L1621.3 1003.9Z" fill="#0000ff" fill-opacity="0.3" stroke="none"/><path d="M1327.4 1011.1L1444.5 1010.7L1551.5 1009.8L1570.5 1009.2L1591.5 1008.3L1621.5 1006.5L1642.4 1005.1L1652.4 1004.1L1660.3 1003.1L1667.2 1001.9L1673 1000.4L1681.5 997.5L1715.1 984.6L1723.6 981.8L1732.3 979.5L1743.1 977.2L1751.9 975.7L1759.9 974.8L1767.8 974.5L1777.8 974.9L1786.8 975.8L1794.6 977.2L1801.3 979.1L1805.9 980.9L1812.4 983.6L1850.5 1001.2L1872.4 1011.1" stroke="#0000ff" stroke-width="5.5" fill="none" stroke-linejoin="round"/><path d="M1621.5 1006.9L1645.9 1006.2L1652 1005.6L1657 1004.6L1665 1002.7L1673.9 1000.1L1716.3 984.8L1731.2 980.4L1741.7 978.1L1751.2 976.5L1760.7 975.8L1771.4 975.7L1780.9 976.4L1789.3 977.8L1800.5 980.7L1811.5 984.4L1826.5 991.2L1852.8 1005L1870.7 1013.8L1874.1 1008.4L1861.9 999.4L1854.2 994.5L1832.8 983.2L1818 976.3L1806.3 972L1792.4 968.2L1782.1 966.4L1771.7 965.7L1760.4 965.8L1751 966.5L1741.8 967.9L1730.8 970.2L1721.9 972.6L1714.1 975L1676.4 988.7L1665.3 992.3L1632.9 1000L1627.1 1001.1L1621.1 1001.7Z" fill="#ff0000" fill-opacity="0.3" stroke="none"/><path d="M1327.4 1011.1L1383.4 1011L1438.4 1010.6L1494.4 1009.9L1544.4 1009.1L1556.4 1008.7L1569.4 1007.9L1628.3 1003.7L1638.2 1002.7L1648.1 1001.2L1657 999.5L1665.7 997.4L1678.1 993.4L1715.7 979.8L1723.3 977.4L1732 975.1L1741.7 973L1749.6 971.7L1757.6 970.9L1766.6 970.7L1772.5 970.8L1778.5 971.1L1783.5 971.7L1788.4 972.5L1794.2 973.8L1800 975.4L1806.7 977.4L1812.3 979.4L1817.9 981.7L1824.3 984.6L1842.1 993.6L1857 1001.8L1872.4 1011.1" stroke="#ff0000" stroke-width="5.5" fill="none" stroke-linejoin="round"/></g><path d="M1436.4 1011.1v-21M1436.4 601.9v21M1327.4 929.3h21M1872.4 929.3h-21M1545.4 1011.1v-21M1545.4 601.9v21M1327.4 847.4h21M1872.4 847.4h-21M1654.4 1011.1v-21M1654.4 601.9v21M1327.4 765.6h21M1872.4 765.6h-21M1763.4 1011.1v-21M1763.4 601.9v21M1327.4 683.7h21M1872.4 683.7h-21" stroke="#000" stroke-width="3" fill="none"/><rect x="1340.7" y="615" width="255.8" height="190.4" fill="#fff" stroke="#000" stroke-width="4.5"/><path d="M1355.3 633.7h40.4" stroke="#008000" stroke-width="5.5"/><text class="r" x="1420.7" y="643.8" font-size="25.8">SOC</text><path d="M1355.3 670.7h40.4" stroke="#808080" stroke-width="5.5"/><text class="r" x="1420.7" y="680.1" font-size="25.8">DACCER (n/a)</text><path d="M1355.3 707.7h40.4" stroke="#00ffff" stroke-width="5.5"/><text class="r" x="1420.7" y="716.4" font-size="25.8">BC</text><path d="M1355.3 744.7h40.4" stroke="#0000ff" stroke-width="5.5"/><text class="r" x="1420.7" y="752.7" font-size="25.8">CFBC<tspan dx="3.0" dy="-3" font-size="21.5">*</tspan><tspan dx="5.0" dy="0" font-size="21.5">*</tspan></text><path d="M1355.3 781.7h40.4" stroke="#ff0000" stroke-width="5.5"/><text class="r" x="1420.7" y="789" font-size="25.8">GOT<tspan dx="3.0" dy="-3" font-size="21.5">*</tspan></text><rect x="1327.4" y="601.9" width="545" height="409.2" fill="none" stroke="#000" stroke-width="4.5"/><text class="r" x="1327.4" y="1047.7" font-size="25.8" text-anchor="middle">0</text><text class="r" x="1312.8" y="1019.4" font-size="25.8" text-anchor="end">0</text><text class="r" x="1436.4" y="1047.7" font-size="25.8" text-anchor="middle">20</text><text class="r" x="1312.8" y="937.6" font-size="25.8" text-anchor="end">20</text><text class="r" x="1545.4" y="1047.7" font-size="25.8" text-anchor="middle">40</text><text class="r" x="1312.8" y="855.7" font-size="25.8" text-anchor="end">40</text><text class="r" x="1654.4" y="1047.7" font-size="25.8" text-anchor="middle">60</text><text class="r" x="1312.8" y="773.9" font-size="25.8" text-anchor="end">60</text><text class="r" x="1763.4" y="1047.7" font-size="25.8" text-anchor="middle">80</text><text class="r" x="1312.8" y="692" font-size="25.8" text-anchor="end">80</text><text class="r" x="1872.4" y="1047.7" font-size="25.8" text-anchor="middle">100</text><text class="r" x="1312.8" y="610.2" font-size="25.8" text-anchor="end">100</text><text class="r" x="1597.9" y="580" font-size="30.4" text-anchor="middle">f) Weighted Small-World networks</text><text x="1599.9" y="1091.6" font-size="23.8" font-weight="bold" class="b" text-anchor="middle">Nodes removed [%]</text>
<clipPath id="cp6"><rect x="105.8" y="1155.1" width="545" height="409.2"/></clipPath><path d="M214.8 1564.3V1155.1M105.8 1482.5H650.8M323.8 1564.3V1155.1M105.8 1400.6H650.8M432.8 1564.3V1155.1M105.8 1318.8H650.8M541.8 1564.3V1155.1M105.8 1236.9H650.8" stroke="#000" stroke-width="3" stroke-dasharray="6 11" fill="none"/><g clip-path="url(#cp6)"><path d="M524 1215.4L528.1 1220.4L532.1 1226.4L535.8 1233.6L539.1 1241.3L549.1 1267.9L553.7 1281.1L558.8 1297.3L562.9 1312.7L569.1 1341L575.3 1374.4L579.2 1398L587.3 1452.5L595.9 1505.8L598.8 1519.6L602.3 1531.2L605.5 1538.7L609.2 1544.9L613.8 1550.5L619.6 1555.3L625.2 1558.7L631.8 1561.5L640.2 1563.8L650.2 1565.7L651.4 1560.5L644.6 1558.9L639.1 1556.8L632.6 1553.5L627.6 1549.8L623.8 1546L620.5 1541.5L617.3 1535.6L614.8 1529.3L611.2 1517L608.3 1502.4L599.2 1445.1L591.2 1391.7L585.9 1360.1L579.2 1326.7L573.3 1302.3L568.4 1285.9L563.3 1270.7L557.6 1255.7L552.5 1244.5L547.9 1236.2L542.9 1229.1L536.6 1221.4L527.8 1211.8Z" fill="#00ffff" fill-opacity="0.3" stroke="none"/><path d="M105.8 1155.1L291.9 1157.1L344.9 1157.9L380.9 1158.8L391.9 1159.3L402.9 1160.1L420.8 1162.1L435.6 1164.3L447.4 1166.8L458.9 1170L471.2 1174.3L476.7 1176.6L481.2 1178.7L485.6 1181.1L489.9 1183.6L494.9 1187L499.7 1190.5L506.1 1195.4L512.2 1200.5L517.4 1205.1L522.5 1210L527.3 1215.1L531.2 1219.6L534.8 1224.4L538.2 1229.3L540.8 1233.5L543.2 1237.9L548.3 1248.8L555.5 1267.4L561.7 1285.4L566 1299.8L569.8 1314.3L573.4 1329.9L577.4 1349.5L580.8 1368.2L584.3 1388.9L593 1447.3L602.2 1504.6L603.9 1513.4L605.5 1520.2L607.5 1527L609.8 1533.5L612.8 1539.8L615.9 1544.8L618.4 1547.8L620.5 1549.9L625 1553.7L630 1556.7L636.4 1559.5L643 1561.5L650.8 1563.1" stroke="#00ffff" stroke-width="5.5" fill="none" stroke-linejoin="round"/><path d="M523.7 1216.9L528.4 1222.7L532.3 1228.8L536 1236L540 1245.5L548.7 1268.5L553.5 1282.6L558.3 1298.8L562.5 1315.2L568.2 1343.6L573.2 1375.2L576.9 1402.9L585.1 1471.4L589.7 1506.2L592.6 1521L596 1532.6L599.3 1540.1L603.2 1546.2L608.2 1551.5L614.4 1555.9L621.3 1559.4L630 1562.4L639.4 1564.3L650.4 1565.7L651.2 1560.5L643.2 1559.1L636.4 1557.3L629.3 1554.6L623.2 1551.4L618.4 1547.5L614.9 1543.4L611.5 1537.8L608.8 1531.7L606.7 1525.1L605.1 1518.4L602.1 1501.8L597.5 1466.1L589 1395.6L584 1359.9L578.5 1329.3L573 1304.9L568.8 1289.4L563.8 1274.1L558.3 1259L553.3 1247.8L548.8 1239.6L543.3 1231.5L537 1223.8L527.6 1213.4Z" fill="#0000ff" fill-opacity="0.3" stroke="none"/><path d="M105.8 1155.1L327.8 1157.6L370.8 1158.7L384.8 1159.4L395.8 1160.2L412.7 1162.2L431.4 1165.2L445.2 1168L458.7 1171.6L470.9 1175.9L476.5 1178.1L481 1180.3L485.4 1182.6L489.7 1185.1L494.7 1188.4L499.5 1192L505.9 1196.9L512 1202L517.2 1206.7L522.2 1211.5L527 1216.6L530.9 1221.2L535.1 1226.8L538.5 1231.7L541.1 1236L543.9 1241.2L546.5 1246.6L549.3 1253L556.1 1270.8L561.7 1287.9L565.8 1302.3L569.4 1316.9L572.8 1333.5L576.2 1352.2L579 1370L582.2 1392.8L591.1 1467.3L595.9 1504L597.6 1513.8L599.3 1521.6L601.4 1529.3L603.5 1534.9L605.1 1538.5L606.5 1541.1L609.9 1545.9L614 1550.1L616.3 1551.9L619.5 1554.1L622.1 1555.5L625.7 1557.2L633.2 1559.8L640.9 1561.6L650.8 1563.1" stroke="#0000ff" stroke-width="5.5" fill="none" stroke-linejoin="round"/><path d="M523.6 1225.9L528.3 1231.8L532 1237.9L535.7 1245.2L540.1 1255.6L547.3 1273.8L551.3 1285L555.7 1299.3L559.5 1313.7L566.7 1344.9L571.1 1367.4L579.6 1421.8L587.9 1481.2L590.9 1500L594.7 1519.8L596.5 1526.6L598.7 1533.3L602.1 1540.8L606 1546.8L610.3 1551.4L616.4 1555.9L623.3 1559.5L630.9 1562.2L639.3 1564.1L650.3 1565.7L651.3 1560.5L643.4 1559L636.8 1556.9L629.8 1554L624.6 1550.9L620.6 1547.5L617.1 1543.3L613.8 1537.6L611.2 1531.4L609.1 1524.9L607.4 1518.2L603.7 1498.6L600.9 1480.8L592.6 1421.4L583.9 1366L577.9 1336.5L569.7 1302.4L565.7 1288.9L561.6 1276.5L557.5 1266.2L553.5 1257.9L548.3 1248.8L542.8 1240.7L536 1232.1L527.4 1222.4Z" fill="#ff0000" fill-opacity="0.3" stroke="none"/><path d="M105.8 1155.1L119.8 1156L131.8 1156.5L227.8 1157.8L266.8 1158.8L303.8 1160.1L330.8 1161.4L353.8 1162.9L377.7 1164.9L396.6 1167L414.4 1169.6L430.2 1172.7L442.7 1175.9L454.1 1179.6L461.6 1182.5L469 1185.6L476.3 1188.9L483.4 1192.5L489.6 1195.8L494.7 1198.9L500.6 1202.7L506.3 1206.8L511 1210.5L515.6 1214.4L520 1218.4L524.2 1222.7L528.2 1227.2L531.3 1231L534.3 1235L537.6 1240L540.7 1245.2L544 1251.3L550 1264L555.5 1277.9L560.5 1293.1L564 1305.6L567.6 1320.2L573.1 1344.6L576.7 1362.3L579.8 1380L585.2 1415.6L589.6 1445.3L594.6 1482L597.7 1501.8L599.6 1512.6L601.4 1520.4L603.5 1528.1L605.9 1534.7L608.9 1540.9L612.1 1545.8L614 1548L616.1 1550.1L618.4 1551.9L621.6 1554.1L624.2 1555.6L627.7 1557.3L634.2 1559.7L642 1561.6L650.8 1563.1" stroke="#ff0000" stroke-width="5.5" fill="none" stroke-linejoin="round"/></g><path d="M214.8 1564.3v-21M214.8 1155.1v21M105.8 1482.5h21M650.8 1482.5h-21M323.8 1564.3v-21M323.8 1155.1v21M105.8 1400.6h21M650.8 1400.6h-21M432.8 1564.3v-21M432.8 1155.1v21M105.8 1318.8h21M650.8 1318.8h-21M541.8 1564.3v-21M541.8 1155.1v21M105.8 1236.9h21M650.8 1236.9h-21" stroke="#000" stroke-width="3" fill="none"/><rect x="119.1" y="1431.9" width="192.1" height="118.5" fill="#fff" stroke="#000" stroke-width="4.5"/><path d="M133.7 1452.6h40.4" stroke="#00ffff" stroke-width="5.5"/><text class="r" x="199.1" y="1460.2" font-size="25.8">BC</text><path d="M133.7 1489.6h40.4" stroke="#0000ff" stroke-width="5.5"/><text class="r" x="199.1" y="1497.4" font-size="25.8">CFBC<tspan dx="3.0" dy="-3" font-size="21.5">*</tspan><tspan dx="5.0" dy="0" font-size="21.5">*</tspan></text><path d="M133.7 1526.6h40.4" stroke="#ff0000" stroke-width="5.5"/><text class="r" x="199.1" y="1534.6" font-size="25.8">GOT<tspan dx="3.0" dy="-3" font-size="21.5">*</tspan></text><rect x="105.8" y="1155.1" width="545" height="409.2" fill="none" stroke="#000" stroke-width="4.5"/><text class="r" x="105.8" y="1600.9" font-size="25.8" text-anchor="middle">0</text><text class="r" x="91.2" y="1572.6" font-size="25.8" text-anchor="end">0</text><text class="r" x="214.8" y="1600.9" font-size="25.8" text-anchor="middle">20</text><text class="r" x="91.2" y="1490.8" font-size="25.8" text-anchor="end">20</text><text class="r" x="323.8" y="1600.9" font-size="25.8" text-anchor="middle">40</text><text class="r" x="91.2" y="1408.9" font-size="25.8" text-anchor="end">40</text><text class="r" x="432.8" y="1600.9" font-size="25.8" text-anchor="middle">60</text><text class="r" x="91.2" y="1327.1" font-size="25.8" text-anchor="end">60</text><text class="r" x="541.8" y="1600.9" font-size="25.8" text-anchor="middle">80</text><text class="r" x="91.2" y="1245.2" font-size="25.8" text-anchor="end">80</text><text class="r" x="650.8" y="1600.9" font-size="25.8" text-anchor="middle">100</text><text class="r" x="91.2" y="1163.4" font-size="25.8" text-anchor="end">100</text><text class="r" x="376.3" y="1133.2" font-size="30.4" text-anchor="middle">g) Weighted Erdos-Renyi random graphs</text><text x="378.3" y="1644.8" font-size="23.8" font-weight="bold" class="b" text-anchor="middle">Links removed [%]</text><text x="25.3" y="1355.2" font-size="23.1" font-weight="bold" class="b" text-anchor="middle" transform="rotate(-90 25.3 1355.2)">Size of the giant component [%]</text>
<clipPath id="cp7"><rect x="716.5" y="1155.1" width="545" height="409.2"/></clipPath><path d="M825.5 1564.3V1155.1M716.5 1482.5H1261.5M934.5 1564.3V1155.1M716.5 1400.6H1261.5M1043.5 1564.3V1155.1M716.5 1318.8H1261.5M1152.5 1564.3V1155.1M716.5 1236.9H1261.5" stroke="#000" stroke-width="3" stroke-dasharray="6 11" fill="none"/><g clip-path="url(#cp7)"><path d="M1010.6 1168.3L1020.1 1170.7L1030.9 1174L1042.3 1178.3L1050.1 1181.9L1057.5 1186.2L1065.5 1191.6L1073.1 1197.7L1080.3 1204.3L1086.8 1211.4L1092.6 1219.2L1150.8 1307.8L1162.4 1327.5L1173.1 1347.8L1183.8 1370.3L1191.7 1389.6L1196.4 1402.7L1201.5 1418.9L1221.8 1485.9L1233.7 1527.3L1236.9 1536.9L1240.5 1546.3L1244 1553.7L1247.7 1558.8L1250 1561.1L1252.6 1563.1L1259.2 1566.7L1263.8 1561.9L1257.7 1558L1253.9 1553.8L1250.3 1547.4L1246.3 1537.4L1241.7 1523.2L1230.4 1483.8L1208.2 1411L1202.6 1393.8L1196.8 1378.8L1188.2 1359.4L1178 1338.7L1167.9 1320.2L1156.9 1302.1L1100.2 1215.9L1093.4 1207L1086.3 1199.5L1078.6 1192.7L1069.7 1185.8L1061.1 1180.2L1052.8 1175.7L1045.1 1172.4L1036.1 1169.3L1024.8 1166.2L1011.7 1163.2Z" fill="#00ffff" fill-opacity="0.3" stroke="none"/><path d="M716.5 1155.1L823.6 1155.3L891.7 1155.7L912.7 1156.2L936.7 1157.2L952.7 1158.2L967.6 1159.5L986.5 1161.7L1002.3 1164.1L1016.1 1166.9L1029.6 1170.5L1041 1174.3L1046.5 1176.5L1051.1 1178.6L1055.5 1180.9L1060.6 1184L1069.7 1190.2L1077.4 1196.5L1084.7 1203.3L1090.7 1210L1096.1 1217.2L1109.8 1238.1L1145.2 1291.5L1153.3 1304.1L1159.1 1313.5L1164.7 1323L1170 1332.6L1175.1 1342.4L1182.6 1357.6L1189.3 1372.2L1194.7 1385.1L1199.5 1398.3L1204.7 1414.5L1223.4 1475.8L1228.8 1494L1237.8 1525.8L1240.6 1534.3L1243.7 1542.8L1247.3 1550.9L1249.3 1554.3L1250.9 1556.6L1252.8 1558.7L1255 1560.5L1257.3 1562L1261.5 1564.3" stroke="#00ffff" stroke-width="5.5" fill="none" stroke-linejoin="round"/><path d="M1010.7 1168.5L1019.2 1170.6L1029.2 1173.6L1044.7 1178.8L1053.8 1182.3L1062.8 1186.2L1070.6 1190.1L1078.2 1194.4L1085.6 1199.1L1091.8 1203.7L1098.4 1209.4L1105.5 1216.2L1112.3 1223.4L1120.1 1232.4L1126.9 1240.9L1132.6 1248.9L1138 1257.2L1147 1272.6L1154.7 1287.6L1163 1305.8L1171.4 1326L1177.3 1341.9L1183.3 1359.9L1205.1 1432.8L1214.6 1462.4L1221.5 1482.3L1230.1 1504.8L1239.8 1528L1248.9 1548.1L1257.7 1565.3L1265.3 1563.3L1252.5 1535.4L1244.5 1517.1L1236.2 1496.8L1229.2 1478.1L1222.4 1458.2L1213.3 1429.7L1192.4 1359.6L1186.4 1341.5L1180.4 1325.5L1171.7 1304.1L1162.9 1284.9L1154.5 1268.8L1145.3 1253.2L1139.7 1244.7L1133.6 1236.6L1126 1227.2L1117.9 1218.1L1110.9 1210.8L1104.2 1204.5L1097 1198.6L1090.3 1193.8L1082.5 1188.9L1074.4 1184.5L1065.1 1180L1055.7 1176L1046 1172.5L1037.1 1169.7L1011.8 1163.4Z" fill="#0000ff" fill-opacity="0.3" stroke="none"/><path d="M716.5 1155.1L833.6 1155.3L892.7 1155.7L916.7 1156.6L946.7 1158.2L966.7 1159.7L984.6 1161.5L1000.5 1163.8L1014.2 1166.6L1030.6 1171L1046.8 1176.2L1059.9 1181.3L1071.6 1186.8L1077.8 1190.2L1082.9 1193.2L1088 1196.5L1092.8 1200L1097.5 1203.7L1102.1 1207.6L1111.3 1216.7L1122.1 1228.6L1127.2 1234.8L1132.1 1241.1L1139.5 1251.8L1147.3 1264.6L1155 1278.7L1162 1293.1L1168.1 1306.8L1174.3 1321.6L1179.3 1334.7L1184.6 1349.8L1190.4 1367.9L1201.1 1404.4L1210.7 1436L1219.9 1464.6L1226.9 1484.4L1234.4 1504.1L1243.3 1525.3L1252.3 1545.4L1261.5 1564.3" stroke="#0000ff" stroke-width="5.5" fill="none" stroke-linejoin="round"/><path d="M1009.6 1182.4L1016.6 1185.7L1024.1 1189.7L1041.9 1200.5L1053 1208.5L1064.3 1218.1L1086.7 1239.3L1102.6 1255.6L1114.7 1270L1120.5 1277.9L1126.1 1286.2L1137.1 1304L1160.1 1342.6L1169.7 1360.1L1178.1 1377.1L1187.5 1398L1196.3 1419.2L1206.1 1444.4L1223.7 1491.2L1234.5 1518.3L1240.6 1532.1L1247.1 1545.7L1257.8 1565.4L1265.2 1563.2L1251.7 1535.7L1242 1513.9L1231.4 1486.9L1215.2 1443.8L1205.4 1418.6L1196.6 1397.3L1187.1 1376.2L1178.2 1358.2L1168 1339.6L1144.4 1300L1133.2 1282.1L1122.1 1266.4L1115.7 1258.6L1109 1251L1099.9 1241.5L1088.4 1230.3L1076.7 1219.2L1066.9 1210.5L1054.9 1200.9L1042.9 1193L1029.8 1186L1011.7 1177.7Z" fill="#ff0000" fill-opacity="0.3" stroke="none"/><path d="M716.5 1155.1L800.6 1155.4L871.7 1156.3L894.7 1157L917.7 1158.1L933.7 1159.1L944.6 1160.3L956.4 1162.5L970 1166L990.1 1172.3L1005.1 1177.7L1017.9 1183.3L1031.3 1190.2L1043.3 1197.3L1053.2 1204.1L1059.5 1209.1L1067.1 1215.6L1075.2 1223L1086.1 1233.4L1095.4 1242.5L1102.4 1249.7L1109.2 1257L1115 1263.9L1123.5 1275L1131.8 1287.5L1141.3 1302.8L1162.3 1338.1L1169.7 1351.2L1176.7 1364.5L1183.2 1378L1190.6 1394.4L1197.3 1410.1L1204.4 1427.7L1211.6 1446.4L1226.3 1485.8L1237.7 1514.7L1243.3 1527.5L1249.2 1540.3L1254.9 1551.9L1261.5 1564.3" stroke="#ff0000" stroke-width="5.5" fill="none" stroke-linejoin="round"/></g><path d="M825.5 1564.3v-21M825.5 1155.1v21M716.5 1482.5h21M1261.5 1482.5h-21M934.5 1564.3v-21M934.5 1155.1v21M716.5 1400.6h21M1261.5 1400.6h-21M1043.5 1564.3v-21M1043.5 1155.1v21M716.5 1318.8h21M1261.5 1318.8h-21M1152.5 1564.3v-21M1152.5 1155.1v21M716.5 1236.9h21M1261.5 1236.9h-21" stroke="#000" stroke-width="3" fill="none"/><rect x="729.8" y="1431.9" width="166.7" height="118.5" fill="#fff" stroke="#000" stroke-width="4.5"/><path d="M744.4 1452.6h40.4" stroke="#00ffff" stroke-width="5.5"/><text class="r" x="809.8" y="1460.2" font-size="25.8">BC<tspan dx="3.0" dy="-3" font-size="21.5">*</tspan><tspan dx="5.0" dy="0" font-size="21.5">*</tspan></text><path d="M744.4 1489.6h40.4" stroke="#0000ff" stroke-width="5.5"/><text class="r" x="809.8" y="1497.4" font-size="25.8">CFBC</text><path d="M744.4 1526.6h40.4" stroke="#ff0000" stroke-width="5.5"/><text class="r" x="809.8" y="1534.6" font-size="25.8">GOT<tspan dx="3.0" dy="-3" font-size="21.5">*</tspan></text><rect x="716.5" y="1155.1" width="545" height="409.2" fill="none" stroke="#000" stroke-width="4.5"/><text class="r" x="716.5" y="1600.9" font-size="25.8" text-anchor="middle">0</text><text class="r" x="701.9" y="1572.6" font-size="25.8" text-anchor="end">0</text><text class="r" x="825.5" y="1600.9" font-size="25.8" text-anchor="middle">20</text><text class="r" x="701.9" y="1490.8" font-size="25.8" text-anchor="end">20</text><text class="r" x="934.5" y="1600.9" font-size="25.8" text-anchor="middle">40</text><text class="r" x="701.9" y="1408.9" font-size="25.8" text-anchor="end">40</text><text class="r" x="1043.5" y="1600.9" font-size="25.8" text-anchor="middle">60</text><text class="r" x="701.9" y="1327.1" font-size="25.8" text-anchor="end">60</text><text class="r" x="1152.5" y="1600.9" font-size="25.8" text-anchor="middle">80</text><text class="r" x="701.9" y="1245.2" font-size="25.8" text-anchor="end">80</text><text class="r" x="1261.5" y="1600.9" font-size="25.8" text-anchor="middle">100</text><text class="r" x="701.9" y="1163.4" font-size="25.8" text-anchor="end">100</text><text class="r" x="987" y="1133.2" font-size="30.4" text-anchor="middle">h) Weighted Scale-Free networks</text><text x="989" y="1644.8" font-size="23.8" font-weight="bold" class="b" text-anchor="middle">Links removed [%]</text>
<clipPath id="cp8"><rect x="1327.4" y="1155.1" width="545" height="409.2"/></clipPath><path d="M1436.4 1564.3V1155.1M1327.4 1482.5H1872.4M1545.4 1564.3V1155.1M1327.4 1400.6H1872.4M1654.4 1564.3V1155.1M1327.4 1318.8H1872.4M1763.4 1564.3V1155.1M1327.4 1236.9H1872.4" stroke="#000" stroke-width="3" stroke-dasharray="6 11" fill="none"/><g clip-path="url(#cp8)"><path d="M1702.5 1169.3L1708.5 1172.9L1713.8 1177.8L1719.5 1185.2L1725 1193.9L1729 1201.7L1732.3 1209.9L1735.5 1220.3L1738 1231L1740.7 1246.7L1743.8 1270.4L1748.3 1318.2L1752.3 1356.1L1754.4 1382L1758.3 1442.9L1760.1 1459.9L1762.8 1476.8L1766.9 1495.4L1771.2 1511L1775.7 1523.3L1778.7 1529.7L1781.7 1535.1L1785.1 1540.2L1788.5 1544.1L1793 1548.5L1797.3 1551.7L1801.9 1554.6L1806.9 1557L1812.2 1559L1818.7 1560.8L1825.2 1562.2L1832.7 1563.3L1849.6 1564.8L1872.3 1565.3L1872.5 1560.1L1856.8 1559.3L1835.3 1557.4L1823.9 1555.3L1818.9 1553.8L1814.9 1552.2L1810.3 1549.8L1806.6 1547.3L1803.1 1544.4L1799.8 1541.1L1796.8 1537.4L1793.7 1532.6L1788.5 1522.1L1784 1510.1L1779.8 1494.8L1775.7 1476.3L1773 1459.6L1771.3 1441.7L1766.1 1364.8L1761.2 1317L1757.8 1280.1L1753.8 1247.2L1751.9 1235.3L1749.8 1225.5L1746.7 1213.8L1743.3 1204.2L1739.1 1195L1734.3 1187.1L1729.3 1181.4L1722.4 1175.4L1713.5 1169.3L1704.7 1164.6Z" fill="#00ffff" fill-opacity="0.3" stroke="none"/><path d="M1327.4 1155.1L1432.5 1155.3L1536.6 1156.1L1607.7 1156.9L1625.7 1157.3L1643.7 1158L1659.7 1158.9L1671.7 1159.8L1681.6 1161L1690.5 1162.6L1697.2 1164.4L1702.7 1166.5L1708 1169.2L1713.7 1173.1L1719.8 1178.2L1724.6 1183.3L1728.7 1188.9L1732.8 1195.7L1736.6 1203.9L1739.7 1212.3L1742.4 1221.9L1744.8 1232.6L1747.5 1248.4L1750.4 1271.3L1754.8 1318.1L1758.8 1355.9L1760.9 1381.9L1764.8 1441.8L1766.4 1458.7L1767.7 1467.7L1769.1 1475.6L1772.9 1493.2L1777 1508.6L1779.2 1515.3L1781.3 1520.9L1784.2 1527.3L1786.9 1532.6L1790.1 1537.6L1793.1 1541.5L1796.5 1545.1L1801 1548.9L1805.1 1551.7L1809.5 1554L1814.1 1555.9L1819.8 1557.7L1825.6 1559L1832.5 1560.2L1840.4 1561.1L1850.4 1561.8L1860.4 1562.3L1872.4 1562.7" stroke="#00ffff" stroke-width="5.5" fill="none" stroke-linejoin="round"/><path d="M1702.5 1174.1L1706.6 1176.2L1710.9 1179L1715.2 1182.5L1720.1 1187L1726.1 1192.9L1729.9 1197.2L1734.1 1202.6L1737.9 1208.2L1744.5 1220.3L1753.4 1240.3L1759.7 1257.1L1765.1 1274.1L1768.7 1288.6L1771.9 1304.2L1774.6 1320L1776.9 1337.8L1779.1 1361.6L1784.4 1439.5L1786.3 1458.4L1788.3 1475.3L1791 1492.2L1793.8 1506L1796.7 1516.7L1800.3 1526.1L1804.9 1535.2L1807.7 1539.5L1810.8 1543.6L1816.6 1549.6L1820 1552.2L1823.8 1554.5L1827.9 1556.5L1832.3 1558.1L1842.1 1560.5L1853.1 1562.2L1872.1 1564L1872.7 1558.8L1860.3 1557.3L1845.5 1554.7L1838.2 1552.6L1833 1550.2L1827.4 1546.1L1821.7 1540L1816.9 1532.8L1813 1525L1809.6 1515.8L1806.9 1506.3L1804.3 1493.6L1801.6 1476.9L1799.4 1459.1L1797.5 1440.2L1792.1 1360.4L1789.4 1333.5L1786.8 1314.6L1783.7 1297.8L1780.3 1282.1L1776 1266.6L1769.5 1247.6L1759.8 1224.5L1753 1210.9L1745.8 1199.8L1737.9 1190.4L1734.2 1186.8L1730.7 1184.1L1726 1180.8L1719.9 1177.1L1704.7 1169.4Z" fill="#0000ff" fill-opacity="0.3" stroke="none"/><path d="M1327.4 1155.1L1439.4 1155.3L1552.4 1156L1604.4 1157L1627.4 1157.8L1641.4 1158.5L1655.4 1159.7L1668.2 1161.4L1679 1163.6L1688.7 1166.1L1698.1 1169.4L1706.3 1173L1714.1 1177.4L1721.5 1182.5L1725.4 1185.5L1729.2 1188.9L1732.7 1192.4L1736 1196.1L1739.1 1200L1742.5 1204.9L1745.7 1209.9L1748.6 1215.2L1751.7 1221.4L1755.8 1230.6L1760.5 1241.6L1764.1 1250.9L1769.3 1266.1L1773.8 1282.5L1776.9 1296.1L1779.6 1310.9L1781.9 1325.7L1783.8 1341.6L1785.8 1363.5L1790.7 1437.3L1792.3 1454.3L1794.3 1471.2L1796.8 1488L1799.6 1502.7L1802.3 1513.4L1805.5 1522.8L1807.5 1527.4L1809.7 1531.8L1812.2 1536.1L1815 1540.2L1818.1 1544L1820.9 1546.8L1824.7 1550L1827.9 1552.1L1830.5 1553.5L1834.1 1555L1837.9 1556.2L1842.7 1557.4L1855.5 1559.5L1872.4 1561.4" stroke="#0000ff" stroke-width="5.5" fill="none" stroke-linejoin="round"/><path d="M1702.8 1174L1707.7 1176.5L1712.6 1179.6L1717.6 1183.6L1724.9 1190L1729 1194L1732.9 1198.4L1739.8 1207.8L1743.4 1213.6L1747.1 1220.6L1756.3 1240.5L1762.9 1257.1L1768.1 1273.2L1771.8 1287.7L1775.2 1304.3L1778 1321L1780.3 1338.8L1782.9 1368.6L1787.4 1441.6L1788.8 1457.5L1790.8 1473.5L1793.8 1493.3L1796.4 1507.1L1799.3 1517.9L1802.8 1527.4L1807.4 1536.4L1812.7 1544L1818.5 1550L1822 1552.6L1825.8 1554.9L1833.2 1558.1L1843 1560.6L1854.2 1562.3L1872.1 1564L1872.7 1558.8L1860.3 1557.3L1846.5 1554.8L1840.1 1552.9L1834.9 1550.6L1829.3 1546.5L1824.2 1541.1L1819.4 1534L1815.5 1526.2L1812.1 1517L1809.4 1506.5L1806.9 1493.8L1804 1475.1L1801.9 1458.2L1800.4 1442.3L1795.8 1366.4L1792.9 1335.5L1790.3 1316.6L1787.2 1298.8L1783.5 1282.1L1779.3 1266.6L1776.1 1257.1L1772.5 1247.7L1762.4 1224.7L1755.5 1211.2L1751.7 1205.2L1747.5 1199.4L1739.5 1190.1L1735.7 1186.6L1731.4 1183.3L1726.6 1180.1L1720.3 1176.6L1704.9 1169.2Z" fill="#ff0000" fill-opacity="0.3" stroke="none"/><path d="M1327.4 1155.1L1440.5 1155.3L1553.5 1156L1606.6 1157.1L1628.6 1157.8L1642.6 1158.6L1656.5 1159.8L1668.4 1161.5L1679.2 1163.6L1689.8 1166.5L1699.2 1169.7L1708.4 1173.7L1717.1 1178.6L1724.5 1183.6L1728.4 1186.7L1732.1 1190L1735.6 1193.6L1738.9 1197.3L1742 1201.2L1745.5 1206.1L1748.7 1211.1L1751.6 1216.4L1755.2 1223.5L1759.8 1233.5L1764.2 1243.6L1767.6 1251.9L1770.3 1259.4L1772.8 1267.1L1777.1 1282.5L1780.2 1296.1L1782.9 1310.9L1785.3 1326.7L1787.3 1343.6L1788.5 1356.6L1789.6 1371.5L1793.7 1439.5L1794.9 1453.4L1796.6 1468.3L1799.5 1488.1L1802.3 1503.9L1804.8 1514.6L1808 1524L1810 1528.6L1812.2 1533.1L1814.7 1537.3L1817.5 1541.4L1820.7 1545.2L1823.5 1547.9L1826.6 1550.4L1829.8 1552.5L1832.4 1553.8L1836.1 1555.3L1839.8 1556.5L1844.7 1557.7L1856.5 1559.7L1872.4 1561.4" stroke="#ff0000" stroke-width="5.5" fill="none" stroke-linejoin="round"/></g><path d="M1436.4 1564.3v-21M1436.4 1155.1v21M1327.4 1482.5h21M1872.4 1482.5h-21M1545.4 1564.3v-21M1545.4 1155.1v21M1327.4 1400.6h21M1872.4 1400.6h-21M1654.4 1564.3v-21M1654.4 1155.1v21M1327.4 1318.8h21M1872.4 1318.8h-21M1763.4 1564.3v-21M1763.4 1155.1v21M1327.4 1236.9h21M1872.4 1236.9h-21" stroke="#000" stroke-width="3" fill="none"/><rect x="1340.7" y="1431.9" width="192.1" height="118.5" fill="#fff" stroke="#000" stroke-width="4.5"/><path d="M1355.3 1452.6h40.4" stroke="#00ffff" stroke-width="5.5"/><text class="r" x="1420.7" y="1460.2" font-size="25.8">BC<tspan dx="3.0" dy="-3" font-size="21.5">*</tspan></text><path d="M1355.3 1489.6h40.4" stroke="#0000ff" stroke-width="5.5"/><text class="r" x="1420.7" y="1497.4" font-size="25.8">CFBC<tspan dx="3.0" dy="-3" font-size="21.5">*</tspan><tspan dx="5.0" dy="0" font-size="21.5">*</tspan></text><path d="M1355.3 1526.6h40.4" stroke="#ff0000" stroke-width="5.5"/><text class="r" x="1420.7" y="1534.6" font-size="25.8">GOT</text><rect x="1327.4" y="1155.1" width="545" height="409.2" fill="none" stroke="#000" stroke-width="4.5"/><text class="r" x="1327.4" y="1600.9" font-size="25.8" text-anchor="middle">0</text><text class="r" x="1312.8" y="1572.6" font-size="25.8" text-anchor="end">0</text><text class="r" x="1436.4" y="1600.9" font-size="25.8" text-anchor="middle">20</text><text class="r" x="1312.8" y="1490.8" font-size="25.8" text-anchor="end">20</text><text class="r" x="1545.4" y="1600.9" font-size="25.8" text-anchor="middle">40</text><text class="r" x="1312.8" y="1408.9" font-size="25.8" text-anchor="end">40</text><text class="r" x="1654.4" y="1600.9" font-size="25.8" text-anchor="middle">60</text><text class="r" x="1312.8" y="1327.1" font-size="25.8" text-anchor="end">60</text><text class="r" x="1763.4" y="1600.9" font-size="25.8" text-anchor="middle">80</text><text class="r" x="1312.8" y="1245.2" font-size="25.8" text-anchor="end">80</text><text class="r" x="1872.4" y="1600.9" font-size="25.8" text-anchor="middle">100</text><text class="r" x="1312.8" y="1163.4" font-size="25.8" text-anchor="end">100</text><text class="r" x="1597.9" y="1133.2" font-size="30.4" text-anchor="middle">i) Weighted Small-World networks</text><text x="1599.9" y="1644.8" font-size="23.8" font-weight="bold" class="b" text-anchor="middle">Links removed [%]</text>
<clipPath id="cp9"><rect x="105.8" y="1707.4" width="545" height="409.2"/></clipPath><path d="M214.8 2116.6V1707.4M105.8 2034.8H650.8M323.8 2116.6V1707.4M105.8 1952.9H650.8M432.8 2116.6V1707.4M105.8 1871.1H650.8M541.8 2116.6V1707.4M105.8 1789.2H650.8" stroke="#000" stroke-width="3" stroke-dasharray="6 11" fill="none"/><g clip-path="url(#cp9)"><path d="M400 2109.3L427.2 2108L444.2 2105.8L458.1 2103.4L471 2100.7L479.9 2098.3L488.7 2095.3L496.3 2092L504.6 2087.8L512.5 2083L519.3 2078.2L525.6 2072.8L530.7 2067.6L535.4 2062L540.3 2055.3L548.9 2041.6L554.8 2030.9L560.1 2019.9L569.7 1997.8L577.8 1977.1L592.7 1932.3L600.1 1908.3L608.6 1877.3L636.1 1766.6L642 1744.4L637 1743L612.2 1831.7L599.8 1879.2L592.7 1905.1L586.3 1926.1L572.2 1968.8L564.7 1989.2L550.7 2021.1L544 2034.1L534.2 2050.1L529.7 2056.4L524.8 2062.2L520.1 2066.9L514.3 2071.9L508.1 2076.3L501.5 2080.4L493.8 2084.4L486.7 2087.5L473.9 2091.7L456.6 2095.5L443 2097.9L410.5 2102.8L399.6 2104.1Z" fill="#00ffff" fill-opacity="0.3" stroke="none"/><path d="M105.8 2115.8L261.9 2112.8L317.9 2111.3L341.9 2110.4L367.9 2108.9L393.8 2107.2L414.8 2105.4L432.7 2103.4L447.5 2101.2L465.2 2097.9L472 2096.3L477.8 2094.8L487.3 2091.6L491.9 2089.6L497.3 2087.1L506.9 2081.8L515.2 2076.2L519.9 2072.5L523.6 2069.2L527.8 2064.9L531 2061.1L534.1 2057.2L536.9 2053.1L545.4 2039.5L550.8 2030L555.6 2020.1L566.5 1995.3L572.4 1980.4L576 1970.1L589.2 1930.2L596.5 1906.2L604.4 1877.3L616 1831.7L636 1756.2L643.2 1731.2L650.8 1707.4" stroke="#00ffff" stroke-width="5.5" fill="none" stroke-linejoin="round"/><path d="M400 2109.3L427.2 2108L444.2 2105.8L458.1 2103.4L471 2100.7L479.9 2098.3L488.7 2095.3L496.3 2092L504.6 2087.8L512.5 2083L519.3 2078.2L525.6 2072.8L530.7 2067.6L535.4 2062L540.3 2055.3L548.9 2041.6L554.8 2030.9L560.1 2019.9L569.7 1997.8L577.8 1977.1L592.7 1932.3L600.1 1908.3L608.6 1877.3L636.1 1766.6L642 1744.4L637 1743L612.2 1831.7L599.8 1879.2L592.7 1905.1L586.3 1926.1L572.2 1968.8L564.7 1989.2L550.7 2021.1L544 2034.1L534.2 2050.1L529.7 2056.4L524.8 2062.2L520.1 2066.9L514.3 2071.9L508.1 2076.3L501.5 2080.4L493.8 2084.4L486.7 2087.5L473.9 2091.7L456.6 2095.5L443 2097.9L410.5 2102.8L399.6 2104.1Z" fill="#0000ff" fill-opacity="0.3" stroke="none"/><path d="M105.8 2115.8L261.9 2112.8L317.9 2111.3L341.9 2110.4L367.9 2108.9L393.8 2107.2L414.8 2105.4L432.7 2103.4L447.5 2101.2L465.2 2097.9L472 2096.3L477.8 2094.8L487.3 2091.6L491.9 2089.6L497.3 2087.1L506.9 2081.8L515.2 2076.2L519.9 2072.5L523.6 2069.2L527.8 2064.9L531 2061.1L534.1 2057.2L536.9 2053.1L545.4 2039.5L550.8 2030L555.6 2020.1L566.5 1995.3L572.4 1980.4L576 1970.1L589.2 1930.2L596.5 1906.2L604.4 1877.3L616 1831.7L636 1756.2L643.2 1731.2L650.8 1707.4" stroke="#0000ff" stroke-width="5.5" fill="none" stroke-linejoin="round"/><path d="M400.9 2104.2L427 2101.8L433 2100.8L442 2098.9L452.8 2095.9L463.5 2092.5L473.9 2088.5L484.2 2084L495.1 2078.7L506.7 2072.4L517.1 2066.1L525.6 2060.3L531.3 2055.6L536.5 2050.5L541.8 2044.1L547.2 2036.6L553.7 2026.3L559.8 2015.7L565.8 2004L571.4 1992L579.2 1972.2L592.7 1932.3L600.1 1908.3L608.6 1877.3L636.1 1766.6L642 1744.4L637 1743L611.9 1832.7L594.6 1898.4L589 1917.5L582.9 1936.5L571 1971.4L563.6 1989.7L558.6 2000.5L552.7 2011.9L546.9 2022.1L541.1 2031.3L536 2038.5L531.2 2044.4L526.6 2049L521.6 2053.3L514.5 2058.3L505.3 2064L494.9 2069.8L484.4 2075.1L466.3 2082.9L457.1 2086.2L447.7 2089.1L437.3 2091.8L415 2096.5L400.3 2099Z" fill="#ff0000" fill-opacity="0.3" stroke="none"/><path d="M105.8 2115.4L202.8 2111.7L291.8 2109.1L324.8 2107.7L347.8 2106.4L372.7 2104.4L394.6 2102.3L413.5 2100L429.3 2097.5L442 2094.7L455.5 2090.9L468.7 2086.3L482.5 2080.4L496.8 2073.3L503.8 2069.4L511.6 2064.8L518.3 2060.5L523.2 2057.1L527.1 2054L530.1 2051.3L532.9 2048.5L536.2 2044.8L542.2 2036.8L549.2 2025.9L556.2 2013.8L563.1 2000.4L569.3 1986.8L574.4 1973.7L588.3 1933L592.5 1919.6L596.5 1906.2L604.4 1877.3L616 1831.7L636 1756.2L643.2 1731.2L650.8 1707.4" stroke="#ff0000" stroke-width="5.5" fill="none" stroke-linejoin="round"/></g><path d="M214.8 2116.6v-21M214.8 1707.4v21M105.8 2034.8h21M650.8 2034.8h-21M323.8 2116.6v-21M323.8 1707.4v21M105.8 1952.9h21M650.8 1952.9h-21M432.8 2116.6v-21M432.8 1707.4v21M105.8 1871.1h21M650.8 1871.1h-21M541.8 2116.6v-21M541.8 1707.4v21M105.8 1789.2h21M650.8 1789.2h-21" stroke="#000" stroke-width="3" fill="none"/><rect x="119.1" y="1720.5" width="166.9" height="118.5" fill="#fff" stroke="#000" stroke-width="4.5"/><path d="M133.7 1741.2h40.4" stroke="#00ffff" stroke-width="5.5"/><text class="r" x="199.1" y="1748.8" font-size="25.8">BC<tspan dx="3.0" dy="-3" font-size="21.5">*</tspan><tspan dx="5.0" dy="0" font-size="21.5">*</tspan></text><path d="M133.7 1778.2h40.4" stroke="#0000ff" stroke-width="5.5"/><text class="r" x="199.1" y="1786" font-size="25.8">CFBC</text><path d="M133.7 1815.2h40.4" stroke="#ff0000" stroke-width="5.5"/><text class="r" x="199.1" y="1823.2" font-size="25.8">GOT<tspan dx="3.0" dy="-3" font-size="21.5">*</tspan></text><rect x="105.8" y="1707.4" width="545" height="409.2" fill="none" stroke="#000" stroke-width="4.5"/><text class="r" x="105.8" y="2153.2" font-size="25.8" text-anchor="middle">0</text><text class="r" x="91.2" y="2124.9" font-size="25.8" text-anchor="end">0</text><text class="r" x="214.8" y="2153.2" font-size="25.8" text-anchor="middle">20</text><text class="r" x="91.2" y="2043.1" font-size="25.8" text-anchor="end">20</text><text class="r" x="323.8" y="2153.2" font-size="25.8" text-anchor="middle">40</text><text class="r" x="91.2" y="1961.2" font-size="25.8" text-anchor="end">40</text><text class="r" x="432.8" y="2153.2" font-size="25.8" text-anchor="middle">60</text><text class="r" x="91.2" y="1879.4" font-size="25.8" text-anchor="end">60</text><text class="r" x="541.8" y="2153.2" font-size="25.8" text-anchor="middle">80</text><text class="r" x="91.2" y="1797.5" font-size="25.8" text-anchor="end">80</text><text class="r" x="650.8" y="2153.2" font-size="25.8" text-anchor="middle">100</text><text class="r" x="91.2" y="1715.7" font-size="25.8" text-anchor="end">100</text><text class="r" x="376.3" y="1685.5" font-size="30.4" text-anchor="middle">j) Weighted Erdos-Renyi random graphs</text><text x="378.3" y="2197.1" font-size="23.8" font-weight="bold" class="b" text-anchor="middle">Links removed [%]</text><text x="25.3" y="1907.5" font-size="23.1" font-weight="bold" class="b" text-anchor="middle" transform="rotate(-90 25.3 1907.5)">Number of connected components [%]</text>
<clipPath id="cp10"><rect x="716.5" y="1707.4" width="545" height="409.2"/></clipPath><path d="M825.5 2116.6V1707.4M716.5 2034.8H1261.5M934.5 2116.6V1707.4M716.5 1952.9H1261.5M1043.5 2116.6V1707.4M716.5 1871.1H1261.5M1152.5 2116.6V1707.4M716.5 1789.2H1261.5" stroke="#000" stroke-width="3" stroke-dasharray="6 11" fill="none"/><g clip-path="url(#cp10)"><path d="M929.6 2115.7L950.8 2115.8L959.9 2115.5L977.9 2113.8L995.9 2111.5L1009.9 2109.3L1023.8 2106.3L1037.5 2102.6L1048.2 2099L1057.7 2095L1066.8 2090.2L1076.4 2084.3L1085.5 2077.7L1094.9 2069.9L1104.6 2060.9L1113.1 2052.1L1121.7 2042.1L1132.2 2028.5L1142.6 2013.5L1156.1 1992.3L1167.9 1972.4L1176.6 1956.5L1184.7 1940.2L1193.6 1921.1L1204.8 1895.3L1213.7 1874L1220.9 1855.3L1227.7 1836.3L1234.9 1814.4L1243.5 1786.6L1249.3 1766.4L1256.1 1741.2L1264.4 1708.2L1258.6 1706.6L1249 1740.3L1235.5 1785.2L1222 1828.1L1216.2 1845L1209.9 1861.8L1194.7 1898.6L1184.6 1921.4L1176.6 1938.6L1168.6 1954.5L1160 1970.2L1148.8 1989L1136 2009.1L1125.8 2023.7L1116.1 2036.2L1108.5 2045.2L1100.4 2053.8L1091.1 2062.6L1082.1 2070.2L1074.3 2076L1065.3 2081.8L1055.9 2086.9L1047.1 2090.9L1038 2094.1L1026.7 2097.3L1014.2 2100.3L1002.6 2102.4L977 2105.8L939.5 2109.8L929.5 2110.5Z" fill="#00ffff" fill-opacity="0.3" stroke="none"/><path d="M716.5 2115.8L764.5 2115.6L811.5 2115.3L858.6 2114.6L904.6 2113.7L931.6 2113L945.6 2112.5L960.5 2111.5L976.5 2109.9L995.3 2107.6L1010.1 2105.1L1025.8 2101.7L1033.5 2099.6L1040.2 2097.6L1050.5 2093.8L1060.4 2089.1L1070.8 2083.1L1075.8 2079.8L1080.7 2076.3L1087 2071.4L1093 2066.2L1099.6 2060.1L1106 2053.8L1111.5 2047.9L1116.7 2041.8L1122.4 2034.9L1128.4 2026.9L1134.8 2017.9L1141.5 2008L1149 1996.2L1156.4 1984.2L1162.9 1973L1168.8 1962.5L1174.4 1951.9L1179.4 1942.1L1190.3 1918.5L1204.3 1886.4L1213.6 1863.2L1221.9 1840.7L1231.1 1813.1L1241.9 1777.8L1251.6 1744.1L1261.5 1707.4" stroke="#00ffff" stroke-width="5.5" fill="none" stroke-linejoin="round"/><path d="M929.6 2115.7L950.8 2115.8L959.9 2115.5L977.9 2113.8L995.9 2111.5L1009.9 2109.2L1023.7 2106.1L1040.3 2101.8L1053.9 2097.6L1066.3 2093.1L1078.5 2088L1089.5 2082.5L1099.2 2076.9L1108.5 2070.5L1117.3 2063.4L1124.8 2056.4L1132.4 2047.9L1141.6 2035.8L1153.1 2019.3L1160.8 2007.3L1167.3 1995.8L1175 1979.2L1199.7 1918.9L1205 1904.7L1210.2 1889.5L1240.8 1794.2L1251.4 1757.6L1264.4 1708.2L1258.6 1706.6L1247.3 1745L1228.4 1807.1L1201.9 1888.9L1196.7 1903.9L1191.5 1917.8L1167.6 1976.1L1160.2 1992.1L1153.9 2003.2L1146.5 2014.8L1135.7 2030.3L1126.8 2042.1L1120.4 2049.4L1113.5 2056.1L1105.3 2062.9L1096.6 2069.1L1087.4 2074.6L1077.8 2079.5L1066.1 2084.6L1054.2 2089.1L1042.9 2092.7L1028.6 2096.7L1015.1 2099.9L1002.5 2102.4L977 2105.8L939.5 2109.8L929.5 2110.5Z" fill="#0000ff" fill-opacity="0.3" stroke="none"/><path d="M716.5 2115.8L770.5 2115.6L822.5 2115.1L875.6 2114.3L926.6 2113.2L942.6 2112.6L955.5 2111.8L970.5 2110.5L987.4 2108.6L1004.2 2106.1L1019.9 2102.9L1039.3 2097.9L1047.9 2095.4L1056.4 2092.5L1063.9 2089.8L1071.3 2086.8L1078.6 2083.5L1084.9 2080.4L1091.1 2077.1L1096.2 2074L1101.3 2070.8L1106.9 2066.7L1115.5 2059.8L1122.7 2052.8L1129.9 2044.6L1137.8 2034.3L1149.2 2017.9L1157.9 2004.4L1161.4 1998.3L1164.6 1992.2L1170.5 1979.5L1194.8 1920.2L1200.2 1906.2L1205.4 1891.1L1230.1 1814.9L1237.6 1791.1L1249.5 1750.8L1261.5 1707.4" stroke="#0000ff" stroke-width="5.5" fill="none" stroke-linejoin="round"/><path d="M929.8 2112.7L943.9 2111.6L953.1 2110.4L961.1 2108.8L974.7 2105L989.2 2100.5L1003.4 2095.3L1022.1 2087.8L1036 2081.5L1046.8 2075.8L1056.4 2070L1068.1 2062L1083.6 2050.7L1091.6 2044.5L1098.5 2038.4L1105.1 2031.9L1111.2 2024.9L1120.5 2012.9L1133.4 1994.9L1143.5 1979.9L1155.4 1961.2L1166.3 1943.1L1175.7 1926.5L1184.7 1909.6L1193.6 1891.6L1202.6 1872.5L1211.5 1852.3L1229.4 1809.8L1238.4 1787.4L1244.7 1770.5L1250.6 1753.4L1264.3 1708.3L1258.7 1706.5L1244 1749L1234.1 1776.2L1227.7 1792.9L1201.8 1854.6L1193.7 1872.8L1184.7 1891.7L1176.2 1908.6L1167.2 1925.2L1157.8 1941.6L1147.5 1958.7L1136.8 1975.5L1126.9 1990.4L1114.7 2007.3L1105.6 2019.1L1099.9 2025.7L1094.5 2031.2L1088 2037L1080.3 2043.2L1065.9 2053.7L1053.7 2062.2L1044.6 2067.9L1035.1 2073L1024.4 2078L1011.6 2083.4L995.9 2089.6L982.8 2094.1L968.6 2098.4L945.8 2104.7L937.2 2106.5L929.3 2107.5Z" fill="#ff0000" fill-opacity="0.3" stroke="none"/><path d="M716.5 2115.4L824.6 2113.8L884.6 2112.4L906.6 2111.5L925.6 2110.4L937.5 2109.3L947.4 2107.8L955.2 2106.1L963.9 2103.9L975.5 2100.6L986 2097.3L995.4 2094L1005.7 2090.1L1017.8 2085.2L1027 2081.3L1039.6 2075.2L1045.7 2071.9L1050.9 2068.8L1062.5 2061L1080.4 2048.2L1086.7 2043.3L1092.1 2038.8L1097.3 2034.1L1101.5 2029.9L1105.5 2025.4L1110 2020L1120.9 2005.7L1134.7 1986L1149.9 1962.5L1164.3 1938.5L1170.7 1927.2L1176.9 1915.8L1188.7 1892.6L1200.2 1868.1L1211 1843.3L1229.1 1799.9L1237.2 1779.4L1245 1757.8L1253 1734.1L1261.5 1707.4" stroke="#ff0000" stroke-width="5.5" fill="none" stroke-linejoin="round"/></g><path d="M825.5 2116.6v-21M825.5 1707.4v21M716.5 2034.8h21M1261.5 2034.8h-21M934.5 2116.6v-21M934.5 1707.4v21M716.5 1952.9h21M1261.5 1952.9h-21M1043.5 2116.6v-21M1043.5 1707.4v21M716.5 1871.1h21M1261.5 1871.1h-21M1152.5 2116.6v-21M1152.5 1707.4v21M716.5 1789.2h21M1261.5 1789.2h-21" stroke="#000" stroke-width="3" fill="none"/><rect x="729.8" y="1720.5" width="166.9" height="118.5" fill="#fff" stroke="#000" stroke-width="4.5"/><path d="M744.4 1741.2h40.4" stroke="#00ffff" stroke-width="5.5"/><text class="r" x="809.8" y="1748.8" font-size="25.8">BC<tspan dx="3.0" dy="-3" font-size="21.5">*</tspan><tspan dx="5.0" dy="0" font-size="21.5">*</tspan></text><path d="M744.4 1778.2h40.4" stroke="#0000ff" stroke-width="5.5"/><text class="r" x="809.8" y="1786" font-size="25.8">CFBC</text><path d="M744.4 1815.2h40.4" stroke="#ff0000" stroke-width="5.5"/><text class="r" x="809.8" y="1823.2" font-size="25.8">GOT<tspan dx="3.0" dy="-3" font-size="21.5">*</tspan></text><rect x="716.5" y="1707.4" width="545" height="409.2" fill="none" stroke="#000" stroke-width="4.5"/><text class="r" x="716.5" y="2153.2" font-size="25.8" text-anchor="middle">0</text><text class="r" x="701.9" y="2124.9" font-size="25.8" text-anchor="end">0</text><text class="r" x="825.5" y="2153.2" font-size="25.8" text-anchor="middle">20</text><text class="r" x="701.9" y="2043.1" font-size="25.8" text-anchor="end">20</text><text class="r" x="934.5" y="2153.2" font-size="25.8" text-anchor="middle">40</text><text class="r" x="701.9" y="1961.2" font-size="25.8" text-anchor="end">40</text><text class="r" x="1043.5" y="2153.2" font-size="25.8" text-anchor="middle">60</text><text class="r" x="701.9" y="1879.4" font-size="25.8" text-anchor="end">60</text><text class="r" x="1152.5" y="2153.2" font-size="25.8" text-anchor="middle">80</text><text class="r" x="701.9" y="1797.5" font-size="25.8" text-anchor="end">80</text><text class="r" x="1261.5" y="2153.2" font-size="25.8" text-anchor="middle">100</text><text class="r" x="701.9" y="1715.7" font-size="25.8" text-anchor="end">100</text><text class="r" x="987" y="1685.5" font-size="30.4" text-anchor="middle">k) Weighted Scale-Free networks</text><text x="989" y="2197.1" font-size="23.8" font-weight="bold" class="b" text-anchor="middle">Links removed [%]</text>
<clipPath id="cp11"><rect x="1327.4" y="1707.4" width="545" height="409.2"/></clipPath><path d="M1436.4 2116.6V1707.4M1327.4 2034.8H1872.4M1545.4 2116.6V1707.4M1327.4 1952.9H1872.4M1654.4 2116.6V1707.4M1327.4 1871.1H1872.4M1763.4 2116.6V1707.4M1327.4 1789.2H1872.4" stroke="#000" stroke-width="3" stroke-dasharray="6 11" fill="none"/><g clip-path="url(#cp11)"><path d="M1649.6 2115.3L1669.8 2114.1L1676.9 2113.2L1683.9 2111.9L1694.7 2109.4L1706.5 2106.1L1716.2 2102.9L1723.8 2099.8L1729.5 2097L1734 2094.3L1738.3 2091.2L1743 2087L1747.3 2082.5L1752 2076.8L1755.6 2071.8L1759.4 2065.6L1763.2 2058.3L1767.4 2049L1783.6 2006.8L1788.4 1992.4L1800.8 1953.3L1823.1 1885.9L1837.9 1838.1L1854.1 1778.2L1863.4 1745.5L1858.4 1744L1820.4 1868.2L1792.3 1953.7L1779 1995.6L1772.6 2013.4L1761.1 2043.2L1756.9 2053.1L1752.4 2061.6L1748.9 2067.3L1745.6 2072L1741.4 2077.2L1737.4 2081.3L1730.3 2087.1L1726.4 2089.6L1721.4 2092.1L1708.8 2097L1691.8 2101.9L1662.9 2108.3L1656.1 2109.4L1649.2 2110.1Z" fill="#00ffff" fill-opacity="0.3" stroke="none"/><path d="M1327.4 2116.2L1446.4 2115.9L1562.4 2115L1614.4 2114.3L1632.4 2113.6L1648.4 2112.8L1660.4 2111.8L1672.2 2110.1L1686 2107.4L1698.6 2104.3L1711 2100.5L1720.4 2097L1727.5 2093.5L1730.9 2091.5L1734.2 2089.3L1737.3 2086.8L1740.2 2084.1L1743 2081.3L1746.3 2077.5L1751.7 2070.4L1754.4 2066.2L1756.9 2061.9L1760.5 2054.7L1764.1 2046.5L1773.9 2021.4L1779.2 2007.3L1784.3 1992.2L1797.3 1951.2L1819.3 1884.7L1828.3 1856.1L1836.7 1828.3L1849.1 1785L1872.4 1705.4" stroke="#00ffff" stroke-width="5.5" fill="none" stroke-linejoin="round"/><path d="M1649.6 2115.3L1670.9 2113.9L1677.9 2113L1684.9 2111.7L1695.8 2109.2L1708.5 2105.6L1718.1 2102.4L1726.8 2099L1732.4 2096.2L1737.8 2093L1742.9 2089.3L1747.7 2085.2L1752.8 2080.1L1757 2075.4L1760.7 2070.4L1764.6 2064.2L1768 2057.8L1771.7 2049.3L1784.8 2014.5L1792.8 1990.7L1807.7 1942.9L1817.6 1910.3L1833.1 1855.4L1853.9 1779.1L1863.4 1745.5L1858.4 1744L1831 1834L1806.5 1919.5L1785.8 1986.3L1777.9 2009.9L1768.3 2036.1L1762.4 2050.8L1757.7 2060.2L1754.7 2065L1751.3 2069.6L1747.6 2073.9L1743 2078.7L1738.7 2082.4L1734.2 2085.8L1729.4 2088.7L1724.4 2091.3L1718.2 2093.9L1710.8 2096.5L1691.9 2101.9L1663 2108.2L1656.2 2109.4L1649.3 2110.1Z" fill="#0000ff" fill-opacity="0.3" stroke="none"/><path d="M1327.4 2116.2L1448.4 2115.9L1566.5 2114.9L1615.5 2114.2L1633.5 2113.6L1649.5 2112.7L1662.4 2111.5L1675.2 2109.5L1689 2106.7L1702.5 2103.2L1714.9 2099.3L1724.2 2095.8L1728.7 2093.6L1732.2 2091.7L1738.9 2087.4L1742 2084.9L1745.7 2081.6L1751.9 2075.2L1755.1 2071.3L1757.4 2068.1L1761.6 2061.3L1765.2 2054.2L1768.7 2045.9L1776.2 2026.3L1782.3 2009.4L1790.8 1983.7L1811.8 1915.9L1845.5 1797.5L1872.4 1705.4" stroke="#0000ff" stroke-width="5.5" fill="none" stroke-linejoin="round"/><path d="M1649.7 2114L1671 2112.3L1678 2111.3L1684.9 2109.9L1695.8 2107.2L1708.4 2103.5L1718.1 2100.2L1726.6 2096.7L1732.2 2093.9L1737.6 2090.7L1742.8 2087.1L1748.4 2082.4L1753.5 2077.2L1757.7 2072.5L1761.4 2067.5L1765.3 2061.3L1769.2 2054L1772.9 2045.6L1783.4 2018.4L1792.5 1991.7L1807.1 1944.9L1817.6 1910.3L1833.1 1855.4L1853.9 1779.2L1863.4 1745.5L1858.4 1744L1831 1834L1806.5 1919.6L1785.5 1987.4L1777.9 2010L1770.4 2030.6L1763.6 2047L1758.4 2057.3L1755.4 2062.2L1752 2066.8L1748.4 2071.1L1743.7 2075.8L1738.6 2080.1L1734.1 2083.5L1729.3 2086.4L1724.2 2089L1718 2091.7L1710.7 2094.3L1691.8 2100L1663 2106.7L1656.2 2108L1649.3 2108.9Z" fill="#ff0000" fill-opacity="0.3" stroke="none"/><path d="M1327.4 2115.8L1593.5 2113.8L1620.6 2113.2L1645.5 2111.8L1659.5 2110.4L1672.3 2108.4L1686 2105.6L1699.5 2102L1712.9 2097.8L1723.2 2093.9L1727.7 2091.8L1732.1 2089.4L1735.5 2087.4L1739.5 2084.5L1745.7 2079.4L1752 2073L1757 2066.9L1761.9 2059.3L1766 2051.4L1770 2042.2L1775.9 2027.3L1781.7 2011.3L1790.8 1983.8L1811.8 1915.9L1845.5 1797.6L1872.4 1705.4" stroke="#ff0000" stroke-width="5.5" fill="none" stroke-linejoin="round"/></g><path d="M1436.4 2116.6v-21M1436.4 1707.4v21M1327.4 2034.8h21M1872.4 2034.8h-21M1545.4 2116.6v-21M1545.4 1707.4v21M1327.4 1952.9h21M1872.4 1952.9h-21M1654.4 2116.6v-21M1654.4 1707.4v21M1327.4 1871.1h21M1872.4 1871.1h-21M1763.4 2116.6v-21M1763.4 1707.4v21M1327.4 1789.2h21M1872.4 1789.2h-21" stroke="#000" stroke-width="3" fill="none"/><rect x="1340.7" y="1720.5" width="179.8" height="118.5" fill="#fff" stroke="#000" stroke-width="4.5"/><path d="M1355.3 1741.2h40.4" stroke="#00ffff" stroke-width="5.5"/><text class="r" x="1420.7" y="1748.8" font-size="25.8">BC<tspan dx="3.0" dy="-3" font-size="21.5">*</tspan></text><path d="M1355.3 1778.2h40.4" stroke="#0000ff" stroke-width="5.5"/><text class="r" x="1420.7" y="1786" font-size="25.8">CFBC</text><path d="M1355.3 1815.2h40.4" stroke="#ff0000" stroke-width="5.5"/><text class="r" x="1420.7" y="1823.2" font-size="25.8">GOT<tspan dx="3.0" dy="-3" font-size="21.5">*</tspan><tspan dx="5.0" dy="0" font-size="21.5">*</tspan></text><rect x="1327.4" y="1707.4" width="545" height="409.2" fill="none" stroke="#000" stroke-width="4.5"/><text class="r" x="1327.4" y="2153.2" font-size="25.8" text-anchor="middle">0</text><text class="r" x="1312.8" y="2124.9" font-size="25.8" text-anchor="end">0</text><text class="r" x="1436.4" y="2153.2" font-size="25.8" text-anchor="middle">20</text><text class="r" x="1312.8" y="2043.1" font-size="25.8" text-anchor="end">20</text><text class="r" x="1545.4" y="2153.2" font-size="25.8" text-anchor="middle">40</text><text class="r" x="1312.8" y="1961.2" font-size="25.8" text-anchor="end">40</text><text class="r" x="1654.4" y="2153.2" font-size="25.8" text-anchor="middle">60</text><text class="r" x="1312.8" y="1879.4" font-size="25.8" text-anchor="end">60</text><text class="r" x="1763.4" y="2153.2" font-size="25.8" text-anchor="middle">80</text><text class="r" x="1312.8" y="1797.5" font-size="25.8" text-anchor="end">80</text><text class="r" x="1872.4" y="2153.2" font-size="25.8" text-anchor="middle">100</text><text class="r" x="1312.8" y="1715.7" font-size="25.8" text-anchor="end">100</text><text class="r" x="1597.9" y="1685.5" font-size="30.4" text-anchor="middle">l) Weighted Small-World networks</text><text x="1599.9" y="2197.1" font-size="23.8" font-weight="bold" class="b" text-anchor="middle">Links removed [%]</text>
</svg></body></html>
